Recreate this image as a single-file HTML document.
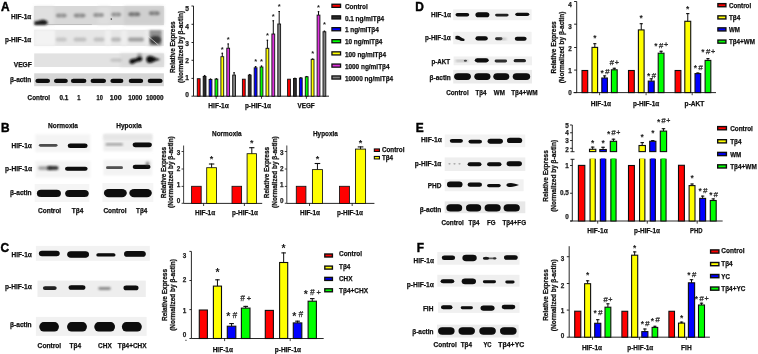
<!DOCTYPE html>
<html><head><meta charset="utf-8"><style>
html,body{margin:0;padding:0;background:#fff;}
body{width:758px;height:354px;overflow:hidden;}
svg{display:block;will-change:transform;}
text{font-family:"Liberation Sans",sans-serif;}
</style></head><body>
<svg width="758" height="354" viewBox="0 0 758 354">
<defs><filter id="gblur" x="0" y="0" width="100%" height="100%" filterUnits="userSpaceOnUse"><feGaussianBlur stdDeviation="0.35"/></filter><filter id="b4" x="-50%" y="-50%" width="200%" height="200%"><feGaussianBlur stdDeviation="0.4"/></filter><filter id="b5" x="-50%" y="-50%" width="200%" height="200%"><feGaussianBlur stdDeviation="0.5"/></filter><filter id="b6" x="-50%" y="-50%" width="200%" height="200%"><feGaussianBlur stdDeviation="0.6"/></filter><filter id="b7" x="-50%" y="-50%" width="200%" height="200%"><feGaussianBlur stdDeviation="0.7"/></filter><filter id="b8" x="-50%" y="-50%" width="200%" height="200%"><feGaussianBlur stdDeviation="0.8"/></filter><filter id="b9" x="-50%" y="-50%" width="200%" height="200%"><feGaussianBlur stdDeviation="0.9"/></filter><filter id="b10" x="-50%" y="-50%" width="200%" height="200%"><feGaussianBlur stdDeviation="1.0"/></filter><filter id="b11" x="-50%" y="-50%" width="200%" height="200%"><feGaussianBlur stdDeviation="1.1"/></filter><filter id="b12" x="-50%" y="-50%" width="200%" height="200%"><feGaussianBlur stdDeviation="1.2"/></filter><filter id="b13" x="-50%" y="-50%" width="200%" height="200%"><feGaussianBlur stdDeviation="1.3"/></filter><filter id="b15" x="-50%" y="-50%" width="200%" height="200%"><feGaussianBlur stdDeviation="1.5"/></filter></defs>
<rect width="758" height="354" fill="#fff"/>
<g filter="url(#gblur)">
<text x="1.00" y="10.80" font-size="12.8" text-anchor="start" fill="#000" font-weight="bold" textLength="8.60" lengthAdjust="spacingAndGlyphs" stroke="#000" stroke-width="0.45">A</text>
<text x="11.00" y="18.71" font-size="6.6" text-anchor="start" fill="#111" font-weight="bold" textLength="20.30" lengthAdjust="spacingAndGlyphs" stroke="#111" stroke-width="0.25">HIF-1α</text>
<text x="5.00" y="42.31" font-size="6.6" text-anchor="start" fill="#111" font-weight="bold" textLength="26.30" lengthAdjust="spacingAndGlyphs" stroke="#111" stroke-width="0.25">p-HIF-1α</text>
<text x="13.80" y="66.51" font-size="6.6" text-anchor="start" fill="#111" font-weight="bold" textLength="18.00" lengthAdjust="spacingAndGlyphs" stroke="#111" stroke-width="0.25">VEGF</text>
<text x="10.00" y="82.31" font-size="6.6" text-anchor="start" fill="#111" font-weight="bold" textLength="21.30" lengthAdjust="spacingAndGlyphs" stroke="#111" stroke-width="0.25">β-actin</text>
<text x="27.60" y="99.81" font-size="6.6" text-anchor="start" fill="#111" font-weight="bold" textLength="22.50" lengthAdjust="spacingAndGlyphs" stroke="#111" stroke-width="0.25">Control</text>
<text x="59.40" y="99.81" font-size="6.6" text-anchor="start" fill="#111" font-weight="bold" textLength="8.80" lengthAdjust="spacingAndGlyphs" stroke="#111" stroke-width="0.25">0.1</text>
<text x="77.20" y="99.81" font-size="6.6" text-anchor="start" fill="#111" font-weight="bold" textLength="3.20" lengthAdjust="spacingAndGlyphs" stroke="#111" stroke-width="0.25">1</text>
<text x="96.50" y="99.81" font-size="6.6" text-anchor="start" fill="#111" font-weight="bold" textLength="6.30" lengthAdjust="spacingAndGlyphs" stroke="#111" stroke-width="0.25">10</text>
<text x="109.80" y="99.81" font-size="6.6" text-anchor="start" fill="#111" font-weight="bold" textLength="11.80" lengthAdjust="spacingAndGlyphs" stroke="#111" stroke-width="0.25">100</text>
<text x="128.30" y="99.81" font-size="6.6" text-anchor="start" fill="#111" font-weight="bold" textLength="14.10" lengthAdjust="spacingAndGlyphs" stroke="#111" stroke-width="0.25">1000</text>
<text x="145.90" y="99.81" font-size="6.6" text-anchor="start" fill="#111" font-weight="bold" textLength="17.50" lengthAdjust="spacingAndGlyphs" stroke="#111" stroke-width="0.25">10000</text>
<rect x="34.20" y="6.00" width="129.70" height="19.10" fill="#d8d8d8" filter="url(#b5)"/>
<rect x="34.20" y="6.50" width="19.80" height="18.00" fill="#e0e0e0" filter="url(#b15)"/>
<rect x="98.00" y="6.50" width="12.00" height="18.00" fill="#dedede" filter="url(#b15)"/>
<rect x="124.00" y="6.50" width="39.50" height="18.00" fill="#cfcfcf" filter="url(#b15)"/>
<path d="M34.4,21.4 Q39,21.0 42,19.8 Q45.5,19.2 47.6,21.8 Q48,24.6 45,25.0 L34.4,25.0 Z" fill="#1c1c1c" filter="url(#b10)"/>
<rect x="47.00" y="24.00" width="45.00" height="0.80" rx="0.46" ry="0.40" fill="#777" filter="url(#b6)" opacity="0.35"/>
<rect x="55.80" y="13.60" width="11.00" height="4.00" rx="2.32" ry="2.00" fill="#555" filter="url(#b13)" opacity="0.42"/>
<ellipse cx="58.55" cy="15.60" rx="1.83" ry="1.60" fill="#444" filter="url(#b10)" opacity="0.189"/>
<ellipse cx="64.05" cy="15.60" rx="1.83" ry="1.60" fill="#444" filter="url(#b10)" opacity="0.189"/>
<rect x="73.60" y="13.60" width="12.00" height="4.00" rx="2.32" ry="2.00" fill="#555" filter="url(#b13)" opacity="0.45"/>
<ellipse cx="76.60" cy="15.60" rx="2.00" ry="1.60" fill="#444" filter="url(#b10)" opacity="0.2025"/>
<ellipse cx="82.60" cy="15.60" rx="2.00" ry="1.60" fill="#444" filter="url(#b10)" opacity="0.2025"/>
<rect x="93.10" y="13.00" width="11.00" height="4.00" rx="2.32" ry="2.00" fill="#555" filter="url(#b13)" opacity="0.42"/>
<ellipse cx="95.85" cy="15.00" rx="1.83" ry="1.60" fill="#444" filter="url(#b10)" opacity="0.189"/>
<ellipse cx="101.35" cy="15.00" rx="1.83" ry="1.60" fill="#444" filter="url(#b10)" opacity="0.189"/>
<rect x="111.20" y="12.50" width="10.00" height="4.00" rx="2.32" ry="2.00" fill="#555" filter="url(#b13)" opacity="0.42"/>
<ellipse cx="113.70" cy="14.50" rx="1.67" ry="1.60" fill="#444" filter="url(#b10)" opacity="0.189"/>
<ellipse cx="118.70" cy="14.50" rx="1.67" ry="1.60" fill="#444" filter="url(#b10)" opacity="0.189"/>
<rect x="128.30" y="12.20" width="12.00" height="4.00" rx="2.32" ry="2.00" fill="#555" filter="url(#b13)" opacity="0.6"/>
<ellipse cx="131.30" cy="14.20" rx="2.00" ry="1.60" fill="#444" filter="url(#b10)" opacity="0.27"/>
<ellipse cx="137.30" cy="14.20" rx="2.00" ry="1.60" fill="#444" filter="url(#b10)" opacity="0.27"/>
<rect x="148.80" y="11.30" width="11.00" height="4.00" rx="2.32" ry="2.00" fill="#555" filter="url(#b13)" opacity="0.52"/>
<ellipse cx="151.55" cy="13.30" rx="1.83" ry="1.60" fill="#444" filter="url(#b10)" opacity="0.234"/>
<ellipse cx="157.05" cy="13.30" rx="1.83" ry="1.60" fill="#444" filter="url(#b10)" opacity="0.234"/>
<ellipse cx="111.30" cy="19.10" rx="0.80" ry="0.80" fill="#222" filter="url(#b4)" opacity="0.8"/>
<rect x="34.20" y="29.80" width="129.70" height="16.10" fill="#e6e6e6" filter="url(#b5)"/>
<rect x="34.20" y="30.00" width="20.80" height="15.70" fill="#f3f3f3" filter="url(#b10)"/>
<rect x="105.00" y="30.20" width="6.00" height="15.30" fill="#efefef" filter="url(#b10)"/>
<rect x="121.00" y="30.20" width="6.00" height="15.30" fill="#eeeeee" filter="url(#b10)"/>
<rect x="145.00" y="30.20" width="5.00" height="15.30" fill="#ececec" filter="url(#b10)"/>
<rect x="55.80" y="37.60" width="11.00" height="4.00" rx="2.32" ry="2.00" fill="#555" filter="url(#b12)" opacity="0.22"/>
<rect x="73.50" y="37.60" width="13.00" height="4.00" rx="2.32" ry="2.00" fill="#555" filter="url(#b12)" opacity="0.26"/>
<rect x="93.50" y="37.60" width="11.00" height="4.00" rx="2.32" ry="2.00" fill="#555" filter="url(#b12)" opacity="0.26"/>
<rect x="111.00" y="37.60" width="10.00" height="4.00" rx="2.32" ry="2.00" fill="#555" filter="url(#b12)" opacity="0.32"/>
<rect x="128.00" y="37.60" width="16.00" height="4.00" rx="2.32" ry="2.00" fill="#555" filter="url(#b12)" opacity="0.48"/>
<rect x="149.50" y="30.20" width="12.00" height="15.30" fill="#909090" filter="url(#b12)"/>
<rect x="149.80" y="36.00" width="11.20" height="8.00" rx="4.64" ry="4.00" fill="#2a2a2a" filter="url(#b13)" opacity="0.85"/>
<line x1="145.00" y1="33.50" x2="158.50" y2="45.00" stroke="#e8e8e8" stroke-width="0.7"/>
<rect x="34.20" y="53.40" width="129.70" height="13.60" fill="#e2e2e2" filter="url(#b5)"/>
<rect x="120.00" y="53.60" width="43.70" height="13.20" fill="#dadada" filter="url(#b15)"/>
<rect x="110.40" y="58.60" width="11.30" height="3.20" rx="1.86" ry="1.60" fill="#888" filter="url(#b11)" opacity="0.35"/>
<path d="M129.3,61.8 Q129.6,58.6 133.5,58.8 Q136.5,58.6 138.3,56.4 Q142.2,55.4 142.4,59.2 Q142.0,61.6 137.5,61.8 Q135.0,62.2 133.4,63.8 Q129.8,64.6 129.3,61.8 Z" fill="#0c0c0c" filter="url(#b8)"/>
<path d="M146.2,59.5 Q146.4,55.7 150.5,55.8 Q153.8,56.6 155.8,58.1 Q158.5,58.8 160.3,59.3 Q158.5,60.5 155.8,60.8 Q153.8,62.0 150.5,63.1 Q146.4,63.3 146.2,59.5 Z" fill="#0a0a0a" filter="url(#b8)"/>
<ellipse cx="139.50" cy="54.80" rx="2.60" ry="1.60" fill="#666" filter="url(#b9)" opacity="0.55"/>
<rect x="34.20" y="73.30" width="129.70" height="12.90" fill="#d6d6d6" filter="url(#b5)"/>
<rect x="35.40" y="78.80" width="14.60" height="4.20" rx="2.44" ry="2.10" fill="#080808" filter="url(#b6)"/>
<rect x="54.00" y="78.80" width="13.80" height="4.20" rx="2.44" ry="2.10" fill="#080808" filter="url(#b6)"/>
<rect x="70.90" y="78.80" width="15.50" height="4.20" rx="2.44" ry="2.10" fill="#080808" filter="url(#b6)"/>
<rect x="90.60" y="78.80" width="15.40" height="4.20" rx="2.44" ry="2.10" fill="#080808" filter="url(#b6)"/>
<rect x="110.40" y="78.80" width="13.00" height="4.20" rx="2.44" ry="2.10" fill="#080808" filter="url(#b6)"/>
<rect x="128.70" y="78.80" width="14.50" height="4.20" rx="2.44" ry="2.10" fill="#080808" filter="url(#b6)"/>
<rect x="147.70" y="78.80" width="14.90" height="4.20" rx="2.44" ry="2.10" fill="#080808" filter="url(#b6)"/>
<line x1="193.50" y1="6.00" x2="193.50" y2="96.20" stroke="#111" stroke-width="0.9"/>
<line x1="191.50" y1="96.20" x2="193.50" y2="96.20" stroke="#111" stroke-width="0.9"/>
<text x="188.90" y="96.91" font-size="6.6" text-anchor="end" fill="#222" font-weight="bold" stroke="#222" stroke-width="0.25">0</text>
<line x1="191.50" y1="78.40" x2="193.50" y2="78.40" stroke="#111" stroke-width="0.9"/>
<text x="188.90" y="80.11" font-size="6.6" text-anchor="end" fill="#222" font-weight="bold" stroke="#222" stroke-width="0.25">1</text>
<line x1="191.50" y1="60.30" x2="193.50" y2="60.30" stroke="#111" stroke-width="0.9"/>
<text x="188.90" y="63.01" font-size="6.6" text-anchor="end" fill="#222" font-weight="bold" stroke="#222" stroke-width="0.25">2</text>
<line x1="191.50" y1="42.50" x2="193.50" y2="42.50" stroke="#111" stroke-width="0.9"/>
<text x="188.90" y="45.71" font-size="6.6" text-anchor="end" fill="#222" font-weight="bold" stroke="#222" stroke-width="0.25">3</text>
<line x1="191.50" y1="24.30" x2="193.50" y2="24.30" stroke="#111" stroke-width="0.9"/>
<text x="188.90" y="28.61" font-size="6.6" text-anchor="end" fill="#222" font-weight="bold" stroke="#222" stroke-width="0.25">4</text>
<line x1="191.50" y1="6.00" x2="193.50" y2="6.00" stroke="#111" stroke-width="0.9"/>
<text x="188.90" y="11.11" font-size="6.6" text-anchor="end" fill="#222" font-weight="bold" stroke="#222" stroke-width="0.25">5</text>
<line x1="193.50" y1="96.20" x2="329.00" y2="96.20" stroke="#111" stroke-width="0.9"/>
<line x1="216.20" y1="96.20" x2="216.20" y2="98.80" stroke="#111" stroke-width="0.8"/>
<line x1="261.50" y1="96.20" x2="261.50" y2="98.80" stroke="#111" stroke-width="0.8"/>
<line x1="306.40" y1="96.20" x2="306.40" y2="98.80" stroke="#111" stroke-width="0.8"/>
<text transform="translate(175.30,47.20) rotate(-90)" x="0" y="0" font-size="6.8" text-anchor="middle" fill="#111" font-weight="bold" stroke="#111" stroke-width="0.25" textLength="51.70" lengthAdjust="spacingAndGlyphs">Relative Express</text>
<text transform="translate(182.60,46.90) rotate(-90)" x="0" y="0" font-size="6.8" text-anchor="middle" fill="#111" font-weight="bold" stroke="#111" stroke-width="0.25" textLength="72.00" lengthAdjust="spacingAndGlyphs">(Normalized by β-actin)</text>
<rect x="197.30" y="78.70" width="2.80" height="17.50" fill="#ff0000" stroke="#111" stroke-width="0.9"/>
<rect x="203.20" y="76.50" width="2.80" height="19.70" fill="#2a2a2a" stroke="#111" stroke-width="0.9"/>
<line x1="204.60" y1="76.50" x2="204.60" y2="75.00" stroke="#111" stroke-width="1.0"/>
<line x1="203.83" y1="75.50" x2="205.37" y2="75.50" stroke="#111" stroke-width="1.1"/>
<rect x="209.10" y="79.50" width="2.80" height="16.70" fill="#0000ff" stroke="#111" stroke-width="0.9"/>
<line x1="210.50" y1="79.50" x2="210.50" y2="78.60" stroke="#111" stroke-width="1.0"/>
<line x1="209.73" y1="79.10" x2="211.27" y2="79.10" stroke="#111" stroke-width="1.1"/>
<rect x="215.00" y="79.10" width="2.80" height="17.10" fill="#00ff00" stroke="#111" stroke-width="0.9"/>
<line x1="216.40" y1="79.10" x2="216.40" y2="78.30" stroke="#111" stroke-width="1.0"/>
<line x1="215.63" y1="78.80" x2="217.17" y2="78.80" stroke="#111" stroke-width="1.1"/>
<rect x="220.90" y="56.70" width="2.80" height="39.50" fill="#ffff00" stroke="#111" stroke-width="0.9"/>
<line x1="222.30" y1="56.70" x2="222.30" y2="52.80" stroke="#111" stroke-width="1.0"/>
<line x1="221.53" y1="53.30" x2="223.07" y2="53.30" stroke="#111" stroke-width="1.1"/>
<text x="222.30" y="51.61" font-size="7.5" text-anchor="middle" fill="#1a1a1a" font-weight="bold">*</text>
<rect x="226.80" y="48.20" width="2.80" height="48.00" fill="#dd33dd" stroke="#111" stroke-width="0.9"/>
<line x1="228.20" y1="48.20" x2="228.20" y2="43.50" stroke="#111" stroke-width="1.0"/>
<line x1="227.43" y1="44.00" x2="228.97" y2="44.00" stroke="#111" stroke-width="1.1"/>
<text x="228.20" y="42.31" font-size="7.5" text-anchor="middle" fill="#1a1a1a" font-weight="bold">*</text>
<rect x="232.70" y="75.10" width="2.80" height="21.10" fill="#808080" stroke="#111" stroke-width="0.9"/>
<line x1="234.10" y1="75.10" x2="234.10" y2="72.20" stroke="#111" stroke-width="1.0"/>
<line x1="233.33" y1="72.70" x2="234.87" y2="72.70" stroke="#111" stroke-width="1.1"/>
<rect x="242.40" y="79.20" width="2.80" height="17.00" fill="#ff0000" stroke="#111" stroke-width="0.9"/>
<rect x="248.30" y="75.10" width="2.80" height="21.10" fill="#2a2a2a" stroke="#111" stroke-width="0.9"/>
<line x1="249.70" y1="75.10" x2="249.70" y2="74.00" stroke="#111" stroke-width="1.0"/>
<line x1="248.93" y1="74.50" x2="250.47" y2="74.50" stroke="#111" stroke-width="1.1"/>
<rect x="254.20" y="67.80" width="2.80" height="28.40" fill="#0000ff" stroke="#111" stroke-width="0.9"/>
<line x1="255.60" y1="67.80" x2="255.60" y2="66.10" stroke="#111" stroke-width="1.0"/>
<line x1="254.83" y1="66.60" x2="256.37" y2="66.60" stroke="#111" stroke-width="1.1"/>
<text x="255.60" y="64.31" font-size="7.5" text-anchor="middle" fill="#1a1a1a" font-weight="bold">*</text>
<rect x="260.10" y="67.00" width="2.80" height="29.20" fill="#00ff00" stroke="#111" stroke-width="0.9"/>
<line x1="261.50" y1="67.00" x2="261.50" y2="65.60" stroke="#111" stroke-width="1.0"/>
<line x1="260.73" y1="66.10" x2="262.27" y2="66.10" stroke="#111" stroke-width="1.1"/>
<text x="261.50" y="64.31" font-size="7.5" text-anchor="middle" fill="#1a1a1a" font-weight="bold">*</text>
<rect x="266.00" y="48.30" width="2.80" height="47.90" fill="#ffff00" stroke="#111" stroke-width="0.9"/>
<line x1="267.40" y1="48.30" x2="267.40" y2="39.80" stroke="#111" stroke-width="1.0"/>
<line x1="266.63" y1="40.30" x2="268.17" y2="40.30" stroke="#111" stroke-width="1.1"/>
<text x="267.40" y="37.71" font-size="7.5" text-anchor="middle" fill="#1a1a1a" font-weight="bold">*</text>
<rect x="271.90" y="34.00" width="2.80" height="62.20" fill="#dd33dd" stroke="#111" stroke-width="0.9"/>
<line x1="273.30" y1="34.00" x2="273.30" y2="20.30" stroke="#111" stroke-width="1.0"/>
<line x1="272.53" y1="20.80" x2="274.07" y2="20.80" stroke="#111" stroke-width="1.1"/>
<text x="273.30" y="18.71" font-size="7.5" text-anchor="middle" fill="#1a1a1a" font-weight="bold">*</text>
<rect x="277.80" y="24.00" width="2.80" height="72.20" fill="#808080" stroke="#111" stroke-width="0.9"/>
<line x1="279.20" y1="24.00" x2="279.20" y2="11.00" stroke="#111" stroke-width="1.0"/>
<line x1="278.43" y1="11.50" x2="279.97" y2="11.50" stroke="#111" stroke-width="1.1"/>
<text x="279.20" y="9.41" font-size="7.5" text-anchor="middle" fill="#1a1a1a" font-weight="bold">*</text>
<rect x="287.60" y="79.20" width="2.80" height="17.00" fill="#ff0000" stroke="#111" stroke-width="0.9"/>
<rect x="293.50" y="78.50" width="2.80" height="17.70" fill="#2a2a2a" stroke="#111" stroke-width="0.9"/>
<line x1="294.90" y1="78.50" x2="294.90" y2="77.90" stroke="#111" stroke-width="1.0"/>
<line x1="294.13" y1="78.40" x2="295.67" y2="78.40" stroke="#111" stroke-width="1.1"/>
<rect x="299.40" y="78.00" width="2.80" height="18.20" fill="#0000ff" stroke="#111" stroke-width="0.9"/>
<line x1="300.80" y1="78.00" x2="300.80" y2="77.40" stroke="#111" stroke-width="1.0"/>
<line x1="300.03" y1="77.90" x2="301.57" y2="77.90" stroke="#111" stroke-width="1.1"/>
<rect x="305.30" y="76.80" width="2.80" height="19.40" fill="#00ff00" stroke="#111" stroke-width="0.9"/>
<line x1="306.70" y1="76.80" x2="306.70" y2="76.00" stroke="#111" stroke-width="1.0"/>
<line x1="305.93" y1="76.50" x2="307.47" y2="76.50" stroke="#111" stroke-width="1.1"/>
<rect x="311.20" y="59.30" width="2.80" height="36.90" fill="#ffff00" stroke="#111" stroke-width="0.9"/>
<line x1="312.60" y1="59.30" x2="312.60" y2="58.60" stroke="#111" stroke-width="1.0"/>
<line x1="311.83" y1="59.10" x2="313.37" y2="59.10" stroke="#111" stroke-width="1.1"/>
<text x="312.60" y="55.81" font-size="7.5" text-anchor="middle" fill="#1a1a1a" font-weight="bold">*</text>
<rect x="317.10" y="15.10" width="2.80" height="81.10" fill="#dd33dd" stroke="#111" stroke-width="0.9"/>
<line x1="318.50" y1="15.10" x2="318.50" y2="11.20" stroke="#111" stroke-width="1.0"/>
<line x1="317.73" y1="11.70" x2="319.27" y2="11.70" stroke="#111" stroke-width="1.1"/>
<text x="318.50" y="9.71" font-size="7.5" text-anchor="middle" fill="#1a1a1a" font-weight="bold">*</text>
<rect x="323.00" y="31.80" width="2.80" height="64.40" fill="#808080" stroke="#111" stroke-width="0.9"/>
<line x1="324.40" y1="31.80" x2="324.40" y2="30.70" stroke="#111" stroke-width="1.0"/>
<line x1="323.63" y1="31.20" x2="325.17" y2="31.20" stroke="#111" stroke-width="1.1"/>
<text x="324.40" y="27.11" font-size="7.5" text-anchor="middle" fill="#1a1a1a" font-weight="bold">*</text>
<text x="208.30" y="108.21" font-size="6.6" text-anchor="start" fill="#111" font-weight="bold" textLength="20.50" lengthAdjust="spacingAndGlyphs" stroke="#111" stroke-width="0.25">HIF-1α</text>
<text x="244.90" y="108.21" font-size="6.6" text-anchor="start" fill="#111" font-weight="bold" textLength="26.20" lengthAdjust="spacingAndGlyphs" stroke="#111" stroke-width="0.25">p-HIF-1α</text>
<text x="297.50" y="108.21" font-size="6.6" text-anchor="start" fill="#111" font-weight="bold" textLength="17.20" lengthAdjust="spacingAndGlyphs" stroke="#111" stroke-width="0.25">VEGF</text>
<rect x="331.95" y="4.25" width="8.60" height="3.10" fill="#ff0000" stroke="#111" stroke-width="1.3"/>
<text x="344.90" y="8.95" font-size="6.7" text-anchor="start" fill="#111" font-weight="bold" textLength="22.86" lengthAdjust="spacingAndGlyphs" stroke="#111" stroke-width="0.25">Control</text>
<rect x="331.95" y="15.85" width="8.60" height="3.10" fill="#2a2a2a" stroke="#111" stroke-width="1.3"/>
<text x="344.90" y="20.75" font-size="6.7" text-anchor="start" fill="#111" font-weight="bold" textLength="39.31" lengthAdjust="spacingAndGlyphs" stroke="#111" stroke-width="0.25">0.1 ng/mlTβ4</text>
<rect x="331.95" y="27.65" width="8.60" height="3.10" fill="#0000ff" stroke="#111" stroke-width="1.3"/>
<text x="344.90" y="32.35" font-size="6.7" text-anchor="start" fill="#111" font-weight="bold" textLength="33.94" lengthAdjust="spacingAndGlyphs" stroke="#111" stroke-width="0.25">1 ng/mlTβ4</text>
<rect x="331.95" y="39.65" width="8.60" height="3.10" fill="#00ff00" stroke="#111" stroke-width="1.3"/>
<text x="344.90" y="44.35" font-size="6.7" text-anchor="start" fill="#111" font-weight="bold" textLength="37.52" lengthAdjust="spacingAndGlyphs" stroke="#111" stroke-width="0.25">10 ng/mlTβ4</text>
<rect x="331.95" y="51.85" width="8.60" height="3.10" fill="#ffff00" stroke="#111" stroke-width="1.3"/>
<text x="344.90" y="56.55" font-size="6.7" text-anchor="start" fill="#111" font-weight="bold" textLength="41.10" lengthAdjust="spacingAndGlyphs" stroke="#111" stroke-width="0.25">100 ng/mlTβ4</text>
<rect x="331.95" y="64.05" width="8.60" height="3.10" fill="#dd33dd" stroke="#111" stroke-width="1.3"/>
<text x="344.90" y="68.75" font-size="6.7" text-anchor="start" fill="#111" font-weight="bold" textLength="44.68" lengthAdjust="spacingAndGlyphs" stroke="#111" stroke-width="0.25">1000 ng/mlTβ4</text>
<rect x="331.95" y="75.95" width="8.60" height="3.10" fill="#808080" stroke="#111" stroke-width="1.3"/>
<text x="344.90" y="80.65" font-size="6.7" text-anchor="start" fill="#111" font-weight="bold" textLength="48.25" lengthAdjust="spacingAndGlyphs" stroke="#111" stroke-width="0.25">10000 ng/mlTβ4</text>
<text x="1.10" y="132.00" font-size="12.8" text-anchor="start" fill="#000" font-weight="bold" textLength="8.60" lengthAdjust="spacingAndGlyphs" stroke="#000" stroke-width="0.45">B</text>
<text x="48.00" y="127.51" font-size="6.6" text-anchor="start" fill="#111" font-weight="bold" textLength="30.00" lengthAdjust="spacingAndGlyphs" stroke="#111" stroke-width="0.25">Normoxia</text>
<text x="116.20" y="127.51" font-size="6.6" text-anchor="start" fill="#111" font-weight="bold" textLength="25.40" lengthAdjust="spacingAndGlyphs" stroke="#111" stroke-width="0.25">Hypoxia</text>
<text x="11.50" y="148.01" font-size="6.6" text-anchor="start" fill="#111" font-weight="bold" textLength="20.40" lengthAdjust="spacingAndGlyphs" stroke="#111" stroke-width="0.25">HIF-1α</text>
<text x="5.10" y="171.01" font-size="6.6" text-anchor="start" fill="#111" font-weight="bold" textLength="27.10" lengthAdjust="spacingAndGlyphs" stroke="#111" stroke-width="0.25">p-HIF-1α</text>
<text x="10.10" y="194.91" font-size="6.6" text-anchor="start" fill="#111" font-weight="bold" textLength="21.50" lengthAdjust="spacingAndGlyphs" stroke="#111" stroke-width="0.25">β-actin</text>
<text x="38.00" y="212.71" font-size="6.6" text-anchor="start" fill="#111" font-weight="bold" textLength="23.20" lengthAdjust="spacingAndGlyphs" stroke="#111" stroke-width="0.25">Control</text>
<text x="71.70" y="212.71" font-size="6.6" text-anchor="start" fill="#111" font-weight="bold" textLength="11.60" lengthAdjust="spacingAndGlyphs" stroke="#111" stroke-width="0.25">Tβ4</text>
<text x="103.40" y="212.71" font-size="6.6" text-anchor="start" fill="#111" font-weight="bold" textLength="23.20" lengthAdjust="spacingAndGlyphs" stroke="#111" stroke-width="0.25">Control</text>
<text x="136.00" y="212.71" font-size="6.6" text-anchor="start" fill="#111" font-weight="bold" textLength="11.30" lengthAdjust="spacingAndGlyphs" stroke="#111" stroke-width="0.25">Tβ4</text>
<rect x="35.30" y="134.20" width="55.10" height="18.00" fill="#f4f4f4" filter="url(#b8)"/>
<rect x="103.50" y="134.20" width="48.70" height="17.00" fill="#eeeeee" filter="url(#b8)"/>
<rect x="103.50" y="134.20" width="48.70" height="5.80" fill="#e6e6e6" filter="url(#b10)"/>
<rect x="35.30" y="161.00" width="55.10" height="16.70" fill="#f4f4f4" filter="url(#b8)"/>
<rect x="103.50" y="159.70" width="48.70" height="15.80" fill="#f3f3f3" filter="url(#b8)"/>
<rect x="34.70" y="184.00" width="54.60" height="18.00" fill="#f5f5f5" filter="url(#b6)"/>
<rect x="102.40" y="183.00" width="50.90" height="19.00" fill="#f5f5f5" filter="url(#b6)"/>
<rect x="38.90" y="143.95" width="18.60" height="2.70" rx="1.57" ry="1.35" fill="#080808" filter="url(#b6)" opacity="0.72"/>
<rect x="67.70" y="143.45" width="19.90" height="4.50" rx="2.61" ry="2.25" fill="#080808" filter="url(#b6)"/>
<rect x="105.60" y="143.20" width="17.40" height="2.40" rx="1.39" ry="1.20" fill="#555" filter="url(#b8)" opacity="0.55"/>
<rect x="132.70" y="142.45" width="19.10" height="4.70" rx="2.73" ry="2.35" fill="#080808" filter="url(#b6)"/>
<rect x="38.00" y="166.30" width="14.00" height="3.60" rx="2.09" ry="1.80" fill="#555" filter="url(#b10)" opacity="0.5"/>
<rect x="47.00" y="165.90" width="11.60" height="4.20" rx="2.44" ry="2.10" fill="#222" filter="url(#b9)" opacity="0.9"/>
<rect x="65.00" y="166.75" width="22.60" height="4.10" rx="2.38" ry="2.05" fill="#080808" filter="url(#b6)"/>
<rect x="106.00" y="166.35" width="17.00" height="2.70" rx="1.57" ry="1.35" fill="#080808" filter="url(#b6)" opacity="0.7"/>
<rect x="132.70" y="164.85" width="17.80" height="4.10" rx="2.38" ry="2.05" fill="#080808" filter="url(#b6)"/>
<ellipse cx="147.50" cy="164.00" rx="2.00" ry="2.60" fill="#444" filter="url(#b9)" opacity="0.6"/>
<rect x="36.90" y="189.85" width="24.00" height="7.10" rx="4.12" ry="3.55" fill="#080808" filter="url(#b6)"/>
<rect x="65.20" y="189.95" width="23.50" height="7.10" rx="4.12" ry="3.55" fill="#080808" filter="url(#b6)"/>
<rect x="103.90" y="188.95" width="22.90" height="8.30" rx="4.81" ry="4.15" fill="#080808" filter="url(#b6)"/>
<rect x="129.30" y="188.95" width="22.50" height="8.30" rx="4.81" ry="4.15" fill="#080808" filter="url(#b6)"/>
<line x1="183.60" y1="145.50" x2="183.60" y2="203.40" stroke="#111" stroke-width="0.8"/>
<line x1="181.60" y1="203.30" x2="183.60" y2="203.30" stroke="#111" stroke-width="0.8"/>
<text x="180.20" y="202.58" font-size="6.3" text-anchor="end" fill="#222" font-weight="bold" stroke="#222" stroke-width="0.25">0</text>
<line x1="181.60" y1="186.40" x2="183.60" y2="186.40" stroke="#111" stroke-width="0.8"/>
<text x="180.20" y="187.08" font-size="6.3" text-anchor="end" fill="#222" font-weight="bold" stroke="#222" stroke-width="0.25">1</text>
<line x1="181.60" y1="169.00" x2="183.60" y2="169.00" stroke="#111" stroke-width="0.8"/>
<text x="180.20" y="171.08" font-size="6.3" text-anchor="end" fill="#222" font-weight="bold" stroke="#222" stroke-width="0.25">2</text>
<line x1="181.60" y1="151.50" x2="183.60" y2="151.50" stroke="#111" stroke-width="0.8"/>
<text x="180.20" y="155.28" font-size="6.3" text-anchor="end" fill="#222" font-weight="bold" stroke="#222" stroke-width="0.25">3</text>
<line x1="183.60" y1="203.40" x2="262.20" y2="203.40" stroke="#111" stroke-width="0.9"/>
<line x1="203.60" y1="203.40" x2="203.60" y2="206.00" stroke="#111" stroke-width="0.8"/>
<line x1="244.40" y1="203.40" x2="244.40" y2="206.00" stroke="#111" stroke-width="0.8"/>
<rect x="191.60" y="186.30" width="9.60" height="17.10" fill="#ff0000" stroke="#111" stroke-width="0.85"/>
<rect x="206.70" y="167.70" width="9.80" height="35.70" fill="#ffff00" stroke="#111" stroke-width="0.85"/>
<line x1="211.60" y1="167.70" x2="211.60" y2="163.50" stroke="#111" stroke-width="1.0"/>
<line x1="208.91" y1="164.00" x2="214.29" y2="164.00" stroke="#111" stroke-width="1.1"/>
<text x="211.60" y="162.17" font-size="9.0" text-anchor="middle" fill="#1a1a1a" font-weight="bold">*</text>
<rect x="232.00" y="186.30" width="9.60" height="17.10" fill="#ff0000" stroke="#111" stroke-width="0.85"/>
<rect x="247.10" y="153.70" width="9.40" height="49.70" fill="#ffff00" stroke="#111" stroke-width="0.85"/>
<line x1="251.80" y1="153.70" x2="251.80" y2="147.20" stroke="#111" stroke-width="1.0"/>
<line x1="249.22" y1="147.70" x2="254.39" y2="147.70" stroke="#111" stroke-width="1.1"/>
<text x="251.80" y="145.87" font-size="9.0" text-anchor="middle" fill="#1a1a1a" font-weight="bold">*</text>
<text transform="translate(166.00,172.60) rotate(-90)" x="0" y="0" font-size="6.8" text-anchor="middle" fill="#111" font-weight="bold" stroke="#111" stroke-width="0.25" textLength="51.20" lengthAdjust="spacingAndGlyphs">Relative Express</text>
<text transform="translate(172.80,172.10) rotate(-90)" x="0" y="0" font-size="6.8" text-anchor="middle" fill="#111" font-weight="bold" stroke="#111" stroke-width="0.25" textLength="71.70" lengthAdjust="spacingAndGlyphs">(Normalized by β-actin)</text>
<text x="212.10" y="136.01" font-size="6.6" text-anchor="start" fill="#111" font-weight="bold" textLength="29.50" lengthAdjust="spacingAndGlyphs" stroke="#111" stroke-width="0.25">Normoxia</text>
<text x="195.00" y="214.71" font-size="6.6" text-anchor="start" fill="#111" font-weight="bold" textLength="20.20" lengthAdjust="spacingAndGlyphs" stroke="#111" stroke-width="0.25">HIF-1α</text>
<text x="232.10" y="214.71" font-size="6.6" text-anchor="start" fill="#111" font-weight="bold" textLength="25.90" lengthAdjust="spacingAndGlyphs" stroke="#111" stroke-width="0.25">p-HIF-1α</text>
<line x1="286.80" y1="145.50" x2="286.80" y2="203.40" stroke="#111" stroke-width="0.8"/>
<line x1="284.80" y1="203.30" x2="286.80" y2="203.30" stroke="#111" stroke-width="0.8"/>
<text x="283.40" y="202.58" font-size="6.3" text-anchor="end" fill="#222" font-weight="bold" stroke="#222" stroke-width="0.25">0</text>
<line x1="284.80" y1="186.40" x2="286.80" y2="186.40" stroke="#111" stroke-width="0.8"/>
<text x="283.40" y="187.08" font-size="6.3" text-anchor="end" fill="#222" font-weight="bold" stroke="#222" stroke-width="0.25">1</text>
<line x1="284.80" y1="169.00" x2="286.80" y2="169.00" stroke="#111" stroke-width="0.8"/>
<text x="283.40" y="171.08" font-size="6.3" text-anchor="end" fill="#222" font-weight="bold" stroke="#222" stroke-width="0.25">2</text>
<line x1="284.80" y1="151.50" x2="286.80" y2="151.50" stroke="#111" stroke-width="0.8"/>
<text x="283.40" y="155.28" font-size="6.3" text-anchor="end" fill="#222" font-weight="bold" stroke="#222" stroke-width="0.25">3</text>
<line x1="286.80" y1="203.40" x2="374.40" y2="203.40" stroke="#111" stroke-width="0.9"/>
<line x1="309.50" y1="203.40" x2="309.50" y2="206.00" stroke="#111" stroke-width="0.8"/>
<line x1="352.20" y1="203.40" x2="352.20" y2="206.00" stroke="#111" stroke-width="0.8"/>
<rect x="296.30" y="186.30" width="9.60" height="17.10" fill="#ff0000" stroke="#111" stroke-width="0.85"/>
<rect x="312.40" y="169.60" width="10.10" height="33.80" fill="#ffff00" stroke="#111" stroke-width="0.85"/>
<line x1="317.45" y1="169.60" x2="317.45" y2="163.00" stroke="#111" stroke-width="1.0"/>
<line x1="314.67" y1="163.50" x2="320.23" y2="163.50" stroke="#111" stroke-width="1.1"/>
<text x="317.45" y="162.47" font-size="9.0" text-anchor="middle" fill="#1a1a1a" font-weight="bold">*</text>
<rect x="339.50" y="186.30" width="9.90" height="17.10" fill="#ff0000" stroke="#111" stroke-width="0.85"/>
<rect x="355.50" y="149.10" width="10.10" height="54.30" fill="#ffff00" stroke="#111" stroke-width="0.85"/>
<line x1="360.55" y1="149.10" x2="360.55" y2="146.40" stroke="#111" stroke-width="1.0"/>
<line x1="357.77" y1="146.90" x2="363.33" y2="146.90" stroke="#111" stroke-width="1.1"/>
<text x="360.55" y="146.37" font-size="9.0" text-anchor="middle" fill="#1a1a1a" font-weight="bold">*</text>
<text transform="translate(269.00,172.60) rotate(-90)" x="0" y="0" font-size="6.8" text-anchor="middle" fill="#111" font-weight="bold" stroke="#111" stroke-width="0.25" textLength="51.20" lengthAdjust="spacingAndGlyphs">Relative Express</text>
<text transform="translate(276.70,172.10) rotate(-90)" x="0" y="0" font-size="6.8" text-anchor="middle" fill="#111" font-weight="bold" stroke="#111" stroke-width="0.25" textLength="71.70" lengthAdjust="spacingAndGlyphs">(Normalized by β-actin)</text>
<text x="313.00" y="136.01" font-size="6.6" text-anchor="start" fill="#111" font-weight="bold" textLength="24.80" lengthAdjust="spacingAndGlyphs" stroke="#111" stroke-width="0.25">Hypoxia</text>
<text x="300.00" y="214.71" font-size="6.6" text-anchor="start" fill="#111" font-weight="bold" textLength="20.00" lengthAdjust="spacingAndGlyphs" stroke="#111" stroke-width="0.25">HIF-1α</text>
<text x="337.00" y="214.71" font-size="6.6" text-anchor="start" fill="#111" font-weight="bold" textLength="26.00" lengthAdjust="spacingAndGlyphs" stroke="#111" stroke-width="0.25">p-HIF-1α</text>
<rect x="374.35" y="148.95" width="5.10" height="2.50" fill="#ff0000" stroke="#111" stroke-width="1.1"/>
<text x="381.90" y="151.92" font-size="6.4" text-anchor="start" fill="#111" font-weight="bold" textLength="22.60" lengthAdjust="spacingAndGlyphs" stroke="#111" stroke-width="0.25">Control</text>
<rect x="374.35" y="156.45" width="5.10" height="2.50" fill="#ffff00" stroke="#111" stroke-width="1.1"/>
<text x="381.90" y="160.42" font-size="6.4" text-anchor="start" fill="#111" font-weight="bold" textLength="11.20" lengthAdjust="spacingAndGlyphs" stroke="#111" stroke-width="0.25">Tβ4</text>
<text x="0.50" y="251.90" font-size="12.8" text-anchor="start" fill="#000" font-weight="bold" textLength="8.60" lengthAdjust="spacingAndGlyphs" stroke="#000" stroke-width="0.45">C</text>
<text x="11.60" y="256.98" font-size="6.3" text-anchor="start" fill="#111" font-weight="bold" textLength="20.20" lengthAdjust="spacingAndGlyphs" stroke="#111" stroke-width="0.25">HIF-1α</text>
<text x="5.00" y="288.58" font-size="6.3" text-anchor="start" fill="#111" font-weight="bold" textLength="26.80" lengthAdjust="spacingAndGlyphs" stroke="#111" stroke-width="0.25">p-HIF-1α</text>
<text x="10.10" y="327.48" font-size="6.3" text-anchor="start" fill="#111" font-weight="bold" textLength="21.50" lengthAdjust="spacingAndGlyphs" stroke="#111" stroke-width="0.25">β-actin</text>
<text x="37.60" y="348.11" font-size="6.6" text-anchor="start" fill="#111" font-weight="bold" textLength="23.60" lengthAdjust="spacingAndGlyphs" stroke="#111" stroke-width="0.25">Control</text>
<text x="69.60" y="348.11" font-size="6.6" text-anchor="start" fill="#111" font-weight="bold" textLength="11.60" lengthAdjust="spacingAndGlyphs" stroke="#111" stroke-width="0.25">Tβ4</text>
<text x="98.10" y="348.11" font-size="6.6" text-anchor="start" fill="#111" font-weight="bold" textLength="13.70" lengthAdjust="spacingAndGlyphs" stroke="#111" stroke-width="0.25">CHX</text>
<text x="117.70" y="348.11" font-size="6.6" text-anchor="start" fill="#111" font-weight="bold" textLength="28.90" lengthAdjust="spacingAndGlyphs" stroke="#111" stroke-width="0.25">Tβ4+CHX</text>
<rect x="35.90" y="245.90" width="113.90" height="14.90" fill="#f2f2f2" filter="url(#b6)"/>
<rect x="38.90" y="250.85" width="20.80" height="5.30" rx="3.07" ry="2.65" fill="#080808" filter="url(#b6)"/>
<rect x="67.20" y="251.35" width="21.80" height="6.30" rx="3.65" ry="3.15" fill="#080808" filter="url(#b6)"/>
<rect x="96.30" y="253.25" width="19.20" height="3.30" rx="1.91" ry="1.65" fill="#080808" filter="url(#b6)"/>
<rect x="124.00" y="250.95" width="21.80" height="5.90" rx="3.42" ry="2.95" fill="#080808" filter="url(#b6)"/>
<rect x="37.50" y="280.60" width="108.30" height="16.40" fill="#eeeeee" filter="url(#b6)"/>
<rect x="42.90" y="286.20" width="13.80" height="3.80" rx="2.20" ry="1.90" fill="#080808" filter="url(#b6)" opacity="0.9"/>
<rect x="68.60" y="285.20" width="16.80" height="4.60" rx="2.67" ry="2.30" fill="#080808" filter="url(#b6)"/>
<rect x="98.30" y="287.10" width="12.50" height="2.80" rx="1.62" ry="1.40" fill="#555" filter="url(#b9)" opacity="0.65"/>
<rect x="123.50" y="285.60" width="15.00" height="4.60" rx="2.67" ry="2.30" fill="#080808" filter="url(#b6)"/>
<rect x="35.90" y="316.90" width="110.70" height="19.00" fill="#f1f1f1" filter="url(#b6)"/>
<rect x="39.30" y="322.05" width="19.60" height="9.50" rx="4.50" ry="4.75" fill="#080808" filter="url(#b6)"/>
<rect x="67.10" y="322.05" width="19.80" height="9.50" rx="4.50" ry="4.75" fill="#080808" filter="url(#b6)"/>
<rect x="94.30" y="322.05" width="20.70" height="9.50" rx="4.50" ry="4.75" fill="#080808" filter="url(#b6)"/>
<rect x="121.90" y="322.05" width="19.90" height="9.50" rx="4.50" ry="4.75" fill="#080808" filter="url(#b6)"/>
<line x1="191.40" y1="251.40" x2="191.40" y2="338.50" stroke="#111" stroke-width="0.9"/>
<line x1="189.40" y1="338.50" x2="191.40" y2="338.50" stroke="#111" stroke-width="0.9"/>
<text x="186.20" y="336.88" font-size="6.3" text-anchor="end" fill="#222" font-weight="bold" stroke="#222" stroke-width="0.25">0</text>
<line x1="189.40" y1="309.60" x2="191.40" y2="309.60" stroke="#111" stroke-width="0.9"/>
<text x="186.20" y="313.08" font-size="6.3" text-anchor="end" fill="#222" font-weight="bold" stroke="#222" stroke-width="0.25">1</text>
<line x1="189.40" y1="280.50" x2="191.40" y2="280.50" stroke="#111" stroke-width="0.9"/>
<text x="186.20" y="281.88" font-size="6.3" text-anchor="end" fill="#222" font-weight="bold" stroke="#222" stroke-width="0.25">2</text>
<line x1="189.40" y1="251.40" x2="191.40" y2="251.40" stroke="#111" stroke-width="0.9"/>
<text x="186.20" y="258.08" font-size="6.3" text-anchor="end" fill="#222" font-weight="bold" stroke="#222" stroke-width="0.25">3</text>
<line x1="185.00" y1="340.30" x2="186.80" y2="340.30" stroke="#111" stroke-width="0.6"/>
<line x1="191.40" y1="338.50" x2="323.70" y2="338.50" stroke="#111" stroke-width="0.9"/>
<line x1="224.60" y1="338.50" x2="224.60" y2="341.10" stroke="#111" stroke-width="0.8"/>
<line x1="290.20" y1="338.50" x2="290.20" y2="341.10" stroke="#111" stroke-width="0.8"/>
<rect x="199.30" y="310.00" width="8.10" height="28.50" fill="#ff0000" stroke="#111" stroke-width="1.1"/>
<rect x="213.40" y="286.10" width="8.10" height="52.40" fill="#ffff00" stroke="#111" stroke-width="1.1"/>
<line x1="217.45" y1="286.10" x2="217.45" y2="279.30" stroke="#111" stroke-width="1.0"/>
<line x1="215.22" y1="279.80" x2="219.68" y2="279.80" stroke="#111" stroke-width="1.1"/>
<text x="217.45" y="276.33" font-size="10.5" text-anchor="middle" fill="#1a1a1a" font-weight="bold">*</text>
<rect x="227.30" y="326.20" width="8.50" height="12.30" fill="#0000ff" stroke="#111" stroke-width="1.1"/>
<line x1="231.55" y1="326.20" x2="231.55" y2="323.10" stroke="#111" stroke-width="1.0"/>
<line x1="229.21" y1="323.60" x2="233.89" y2="323.60" stroke="#111" stroke-width="1.1"/>
<text x="228.35" y="320.33" font-size="10.5" text-anchor="middle" fill="#1a1a1a" font-weight="bold">*</text>
<text x="234.75" y="317.83" font-size="8.2" text-anchor="middle" fill="#2a2a2a" font-style="italic" stroke="#2a2a2a" stroke-width="0.25">#</text>
<rect x="241.40" y="308.10" width="8.60" height="30.40" fill="#00ff00" stroke="#111" stroke-width="1.1"/>
<line x1="245.70" y1="308.10" x2="245.70" y2="305.90" stroke="#111" stroke-width="1.0"/>
<line x1="243.33" y1="306.40" x2="248.06" y2="306.40" stroke="#111" stroke-width="1.1"/>
<text x="242.50" y="300.93" font-size="8.2" text-anchor="middle" fill="#2a2a2a" font-style="italic" stroke="#2a2a2a" stroke-width="0.25">#</text>
<text x="248.90" y="300.60" font-size="7.4" text-anchor="middle" fill="#2a2a2a" stroke="#2a2a2a" stroke-width="0.3">+</text>
<rect x="265.30" y="310.40" width="8.10" height="28.10" fill="#ff0000" stroke="#111" stroke-width="1.1"/>
<rect x="279.60" y="262.50" width="8.10" height="76.00" fill="#ffff00" stroke="#111" stroke-width="1.1"/>
<line x1="283.65" y1="262.50" x2="283.65" y2="252.40" stroke="#111" stroke-width="1.0"/>
<line x1="281.42" y1="252.90" x2="285.88" y2="252.90" stroke="#111" stroke-width="1.1"/>
<text x="283.65" y="251.63" font-size="10.5" text-anchor="middle" fill="#1a1a1a" font-weight="bold">*</text>
<rect x="293.30" y="322.90" width="8.50" height="15.60" fill="#0000ff" stroke="#111" stroke-width="1.1"/>
<line x1="297.55" y1="322.90" x2="297.55" y2="320.70" stroke="#111" stroke-width="1.0"/>
<line x1="295.21" y1="321.20" x2="299.89" y2="321.20" stroke="#111" stroke-width="1.1"/>
<text x="294.35" y="319.73" font-size="10.5" text-anchor="middle" fill="#1a1a1a" font-weight="bold">*</text>
<text x="300.75" y="317.23" font-size="8.2" text-anchor="middle" fill="#2a2a2a" font-style="italic" stroke="#2a2a2a" stroke-width="0.25">#</text>
<rect x="308.10" y="301.20" width="8.30" height="37.30" fill="#00ff00" stroke="#111" stroke-width="1.1"/>
<line x1="312.25" y1="301.20" x2="312.25" y2="298.10" stroke="#111" stroke-width="1.0"/>
<line x1="309.97" y1="298.60" x2="314.53" y2="298.60" stroke="#111" stroke-width="1.1"/>
<text x="305.85" y="297.53" font-size="10.5" text-anchor="middle" fill="#1a1a1a" font-weight="bold">*</text>
<text x="312.25" y="295.03" font-size="8.2" text-anchor="middle" fill="#2a2a2a" font-style="italic" stroke="#2a2a2a" stroke-width="0.25">#</text>
<text x="318.65" y="294.70" font-size="7.4" text-anchor="middle" fill="#2a2a2a" stroke="#2a2a2a" stroke-width="0.3">+</text>
<text transform="translate(166.70,295.00) rotate(-90)" x="0" y="0" font-size="6.8" text-anchor="middle" fill="#111" font-weight="bold" stroke="#111" stroke-width="0.25" textLength="52.00" lengthAdjust="spacingAndGlyphs">Relative Express</text>
<text transform="translate(175.10,295.00) rotate(-90)" x="0" y="0" font-size="6.8" text-anchor="middle" fill="#111" font-weight="bold" stroke="#111" stroke-width="0.25" textLength="71.60" lengthAdjust="spacingAndGlyphs">(Normalized by β-actin)</text>
<text x="212.70" y="352.01" font-size="6.6" text-anchor="start" fill="#111" font-weight="bold" textLength="20.20" lengthAdjust="spacingAndGlyphs" stroke="#111" stroke-width="0.25">HIF-1α</text>
<text x="274.80" y="352.01" font-size="6.6" text-anchor="start" fill="#111" font-weight="bold" textLength="26.20" lengthAdjust="spacingAndGlyphs" stroke="#111" stroke-width="0.25">p-HIF-1α</text>
<rect x="324.80" y="254.00" width="7.60" height="3.00" fill="#ff0000" stroke="#111" stroke-width="1.4"/>
<text x="339.00" y="256.45" font-size="6.7" text-anchor="start" fill="#111" font-weight="bold" textLength="23.00" lengthAdjust="spacingAndGlyphs" stroke="#111" stroke-width="0.25">Control</text>
<rect x="324.80" y="266.10" width="7.60" height="3.00" fill="#ffff00" stroke="#111" stroke-width="1.4"/>
<text x="339.00" y="269.05" font-size="6.7" text-anchor="start" fill="#111" font-weight="bold" textLength="11.40" lengthAdjust="spacingAndGlyphs" stroke="#111" stroke-width="0.25">Tβ4</text>
<rect x="324.80" y="277.40" width="7.60" height="3.00" fill="#0000ff" stroke="#111" stroke-width="1.4"/>
<text x="339.00" y="280.85" font-size="6.7" text-anchor="start" fill="#111" font-weight="bold" textLength="13.50" lengthAdjust="spacingAndGlyphs" stroke="#111" stroke-width="0.25">CHX</text>
<rect x="324.80" y="288.80" width="7.60" height="3.00" fill="#00ff00" stroke="#111" stroke-width="1.4"/>
<text x="339.00" y="292.75" font-size="6.7" text-anchor="start" fill="#111" font-weight="bold" textLength="29.10" lengthAdjust="spacingAndGlyphs" stroke="#111" stroke-width="0.25">Tβ4+CHX</text>
<text x="415.30" y="11.20" font-size="12.8" text-anchor="start" fill="#000" font-weight="bold" textLength="8.60" lengthAdjust="spacingAndGlyphs" stroke="#000" stroke-width="0.45">D</text>
<text x="431.00" y="17.41" font-size="6.6" text-anchor="start" fill="#111" font-weight="bold" textLength="20.00" lengthAdjust="spacingAndGlyphs" stroke="#111" stroke-width="0.25">HIF-1α</text>
<text x="424.90" y="40.31" font-size="6.6" text-anchor="start" fill="#111" font-weight="bold" textLength="25.90" lengthAdjust="spacingAndGlyphs" stroke="#111" stroke-width="0.25">p-HIF-1α</text>
<text x="431.40" y="64.31" font-size="6.6" text-anchor="start" fill="#111" font-weight="bold" textLength="18.80" lengthAdjust="spacingAndGlyphs" stroke="#111" stroke-width="0.25">p-AKT</text>
<text x="429.60" y="80.01" font-size="6.6" text-anchor="start" fill="#111" font-weight="bold" textLength="21.20" lengthAdjust="spacingAndGlyphs" stroke="#111" stroke-width="0.25">β-actin</text>
<text x="446.20" y="94.81" font-size="6.6" text-anchor="start" fill="#111" font-weight="bold" textLength="22.50" lengthAdjust="spacingAndGlyphs" stroke="#111" stroke-width="0.25">Control</text>
<text x="475.40" y="94.81" font-size="6.6" text-anchor="start" fill="#111" font-weight="bold" textLength="11.00" lengthAdjust="spacingAndGlyphs" stroke="#111" stroke-width="0.25">Tβ4</text>
<text x="493.80" y="94.81" font-size="6.6" text-anchor="start" fill="#111" font-weight="bold" textLength="11.10" lengthAdjust="spacingAndGlyphs" stroke="#111" stroke-width="0.25">WM</text>
<text x="511.20" y="94.81" font-size="6.6" text-anchor="start" fill="#111" font-weight="bold" textLength="26.40" lengthAdjust="spacingAndGlyphs" stroke="#111" stroke-width="0.25">Tβ4+WM</text>
<rect x="453.20" y="9.30" width="78.40" height="10.90" fill="#f1f1f1" filter="url(#b6)"/>
<rect x="455.50" y="13.00" width="13.70" height="3.50" rx="2.03" ry="1.75" fill="#080808" filter="url(#b6)"/>
<rect x="475.40" y="12.20" width="14.00" height="5.10" rx="2.96" ry="2.55" fill="#080808" filter="url(#b6)"/>
<rect x="495.10" y="13.65" width="13.50" height="2.90" rx="1.68" ry="1.45" fill="#080808" filter="url(#b6)" opacity="0.9"/>
<rect x="515.30" y="12.65" width="14.00" height="3.30" rx="1.91" ry="1.65" fill="#080808" filter="url(#b6)"/>
<rect x="453.20" y="31.80" width="78.40" height="12.50" fill="#f1f1f1" filter="url(#b6)"/>
<path d="M455.5,36.0 Q458.5,35.0 460.5,37.0 Q462.5,38.6 464.5,39.0 L464.3,41.0 Q461,41.4 459,40.0 Q457,39.4 455.4,39.0 Z" fill="#080808" filter="url(#b6)"/>
<rect x="475.40" y="36.25" width="12.40" height="4.30" rx="2.49" ry="2.15" fill="#080808" filter="url(#b6)"/>
<rect x="495.10" y="37.25" width="7.40" height="2.90" rx="1.68" ry="1.45" fill="#080808" filter="url(#b6)" opacity="0.85"/>
<rect x="500.00" y="37.90" width="6.80" height="2.00" rx="1.16" ry="1.00" fill="#888" filter="url(#b8)" opacity="0.5"/>
<rect x="514.80" y="36.75" width="11.80" height="3.90" rx="2.26" ry="1.95" fill="#080808" filter="url(#b6)"/>
<rect x="453.60" y="56.50" width="78.40" height="8.80" fill="#f0f0f0" filter="url(#b6)"/>
<rect x="455.40" y="59.90" width="12.90" height="1.60" rx="0.93" ry="0.80" fill="#777" filter="url(#b8)" opacity="0.6"/>
<ellipse cx="465.40" cy="60.70" rx="1.60" ry="1.00" fill="#222" filter="url(#b6)" opacity="0.8"/>
<rect x="474.80" y="58.15" width="13.90" height="4.30" rx="2.49" ry="2.15" fill="#080808" filter="url(#b6)"/>
<rect x="494.60" y="59.55" width="12.50" height="2.90" rx="1.68" ry="1.45" fill="#080808" filter="url(#b6)" opacity="0.85"/>
<rect x="513.60" y="59.05" width="12.40" height="3.30" rx="1.91" ry="1.65" fill="#080808" filter="url(#b6)" opacity="0.9"/>
<rect x="453.20" y="69.90" width="78.80" height="13.60" fill="#ebebeb" filter="url(#b6)"/>
<rect x="454.10" y="73.20" width="16.80" height="6.80" rx="3.94" ry="3.40" fill="#080808" filter="url(#b6)"/>
<rect x="474.30" y="73.20" width="16.20" height="6.80" rx="3.94" ry="3.40" fill="#080808" filter="url(#b6)"/>
<rect x="493.30" y="73.20" width="16.00" height="6.80" rx="3.94" ry="3.40" fill="#080808" filter="url(#b6)"/>
<rect x="512.70" y="73.20" width="17.50" height="6.80" rx="3.94" ry="3.40" fill="#080808" filter="url(#b6)"/>
<line x1="576.70" y1="1.50" x2="576.70" y2="92.60" stroke="#111" stroke-width="0.9"/>
<line x1="574.10" y1="92.60" x2="576.70" y2="92.60" stroke="#111" stroke-width="0.9"/>
<text x="571.80" y="94.88" font-size="6.3" text-anchor="end" fill="#222" font-weight="bold" stroke="#222" stroke-width="0.25">0</text>
<line x1="574.10" y1="70.10" x2="576.70" y2="70.10" stroke="#111" stroke-width="0.9"/>
<text x="571.80" y="73.48" font-size="6.3" text-anchor="end" fill="#222" font-weight="bold" stroke="#222" stroke-width="0.25">1</text>
<line x1="574.10" y1="47.50" x2="576.70" y2="47.50" stroke="#111" stroke-width="0.9"/>
<text x="571.80" y="51.08" font-size="6.3" text-anchor="end" fill="#222" font-weight="bold" stroke="#222" stroke-width="0.25">2</text>
<line x1="574.10" y1="24.20" x2="576.70" y2="24.20" stroke="#111" stroke-width="0.9"/>
<text x="571.80" y="28.78" font-size="6.3" text-anchor="end" fill="#222" font-weight="bold" stroke="#222" stroke-width="0.25">3</text>
<line x1="574.10" y1="1.50" x2="576.70" y2="1.50" stroke="#111" stroke-width="0.9"/>
<text x="571.80" y="7.08" font-size="6.3" text-anchor="end" fill="#222" font-weight="bold" stroke="#222" stroke-width="0.25">4</text>
<line x1="573.50" y1="92.60" x2="716.00" y2="92.60" stroke="#111" stroke-width="0.9"/>
<line x1="599.60" y1="92.60" x2="599.60" y2="95.20" stroke="#111" stroke-width="0.8"/>
<line x1="646.10" y1="92.60" x2="646.10" y2="95.20" stroke="#111" stroke-width="0.8"/>
<line x1="692.20" y1="92.60" x2="692.20" y2="95.20" stroke="#111" stroke-width="0.8"/>
<rect x="582.00" y="70.50" width="5.70" height="22.10" fill="#ff0000" stroke="#111" stroke-width="1.1"/>
<rect x="592.00" y="47.40" width="5.60" height="45.20" fill="#ffff00" stroke="#111" stroke-width="1.1"/>
<line x1="594.80" y1="47.40" x2="594.80" y2="43.20" stroke="#111" stroke-width="1.0"/>
<line x1="593.26" y1="43.70" x2="596.34" y2="43.70" stroke="#111" stroke-width="1.1"/>
<text x="594.80" y="41.26" font-size="8.4" text-anchor="middle" fill="#1a1a1a" font-weight="bold">*</text>
<rect x="601.80" y="78.00" width="5.60" height="14.60" fill="#0000ff" stroke="#111" stroke-width="1.1"/>
<line x1="604.60" y1="78.00" x2="604.60" y2="75.40" stroke="#111" stroke-width="1.0"/>
<line x1="603.06" y1="75.90" x2="606.14" y2="75.90" stroke="#111" stroke-width="1.1"/>
<text x="602.05" y="75.96" font-size="8.4" text-anchor="middle" fill="#1a1a1a" font-weight="bold">*</text>
<text x="607.15" y="74.46" font-size="8.0" text-anchor="middle" fill="#2a2a2a" font-style="italic" stroke="#2a2a2a" stroke-width="0.25">#</text>
<rect x="611.40" y="69.80" width="5.80" height="22.80" fill="#00ff00" stroke="#111" stroke-width="1.1"/>
<line x1="614.30" y1="69.80" x2="614.30" y2="67.80" stroke="#111" stroke-width="1.0"/>
<line x1="612.70" y1="68.30" x2="615.89" y2="68.30" stroke="#111" stroke-width="1.1"/>
<text x="611.75" y="65.46" font-size="8.0" text-anchor="middle" fill="#2a2a2a" font-style="italic" stroke="#2a2a2a" stroke-width="0.25">#</text>
<text x="616.85" y="65.13" font-size="7.2" text-anchor="middle" fill="#2a2a2a" stroke="#2a2a2a" stroke-width="0.3">+</text>
<rect x="628.50" y="70.50" width="5.80" height="22.10" fill="#ff0000" stroke="#111" stroke-width="1.1"/>
<rect x="638.40" y="29.90" width="5.70" height="62.70" fill="#ffff00" stroke="#111" stroke-width="1.1"/>
<line x1="641.25" y1="29.90" x2="641.25" y2="23.20" stroke="#111" stroke-width="1.0"/>
<line x1="639.68" y1="23.70" x2="642.82" y2="23.70" stroke="#111" stroke-width="1.1"/>
<text x="641.25" y="21.26" font-size="8.4" text-anchor="middle" fill="#1a1a1a" font-weight="bold">*</text>
<rect x="648.30" y="81.10" width="5.90" height="11.50" fill="#0000ff" stroke="#111" stroke-width="1.1"/>
<line x1="651.25" y1="81.10" x2="651.25" y2="78.30" stroke="#111" stroke-width="1.0"/>
<line x1="649.63" y1="78.80" x2="652.87" y2="78.80" stroke="#111" stroke-width="1.1"/>
<text x="648.70" y="79.16" font-size="8.4" text-anchor="middle" fill="#1a1a1a" font-weight="bold">*</text>
<text x="653.80" y="77.66" font-size="8.0" text-anchor="middle" fill="#2a2a2a" font-style="italic" stroke="#2a2a2a" stroke-width="0.25">#</text>
<rect x="658.20" y="53.20" width="5.80" height="39.40" fill="#00ff00" stroke="#111" stroke-width="1.1"/>
<line x1="661.10" y1="53.20" x2="661.10" y2="50.80" stroke="#111" stroke-width="1.0"/>
<line x1="659.50" y1="51.30" x2="662.70" y2="51.30" stroke="#111" stroke-width="1.1"/>
<text x="656.00" y="49.16" font-size="8.4" text-anchor="middle" fill="#1a1a1a" font-weight="bold">*</text>
<text x="661.10" y="47.66" font-size="8.0" text-anchor="middle" fill="#2a2a2a" font-style="italic" stroke="#2a2a2a" stroke-width="0.25">#</text>
<text x="666.20" y="47.33" font-size="7.2" text-anchor="middle" fill="#2a2a2a" stroke="#2a2a2a" stroke-width="0.3">+</text>
<rect x="675.10" y="70.50" width="5.80" height="22.10" fill="#ff0000" stroke="#111" stroke-width="1.1"/>
<rect x="684.80" y="21.30" width="5.90" height="71.30" fill="#ffff00" stroke="#111" stroke-width="1.1"/>
<line x1="687.75" y1="21.30" x2="687.75" y2="13.10" stroke="#111" stroke-width="1.0"/>
<line x1="686.13" y1="13.60" x2="689.37" y2="13.60" stroke="#111" stroke-width="1.1"/>
<text x="687.75" y="11.86" font-size="8.4" text-anchor="middle" fill="#1a1a1a" font-weight="bold">*</text>
<rect x="695.00" y="73.60" width="5.70" height="19.00" fill="#0000ff" stroke="#111" stroke-width="1.1"/>
<line x1="697.85" y1="73.60" x2="697.85" y2="72.50" stroke="#111" stroke-width="1.0"/>
<line x1="696.28" y1="73.00" x2="699.42" y2="73.00" stroke="#111" stroke-width="1.1"/>
<text x="695.30" y="71.36" font-size="8.4" text-anchor="middle" fill="#1a1a1a" font-weight="bold">*</text>
<text x="700.40" y="69.86" font-size="8.0" text-anchor="middle" fill="#2a2a2a" font-style="italic" stroke="#2a2a2a" stroke-width="0.25">#</text>
<rect x="705.10" y="60.40" width="5.70" height="32.20" fill="#00ff00" stroke="#111" stroke-width="1.1"/>
<line x1="707.95" y1="60.40" x2="707.95" y2="58.10" stroke="#111" stroke-width="1.0"/>
<line x1="706.38" y1="58.60" x2="709.52" y2="58.60" stroke="#111" stroke-width="1.1"/>
<text x="702.85" y="55.46" font-size="8.4" text-anchor="middle" fill="#1a1a1a" font-weight="bold">*</text>
<text x="707.95" y="53.96" font-size="8.0" text-anchor="middle" fill="#2a2a2a" font-style="italic" stroke="#2a2a2a" stroke-width="0.25">#</text>
<text x="713.05" y="53.63" font-size="7.2" text-anchor="middle" fill="#2a2a2a" stroke="#2a2a2a" stroke-width="0.3">+</text>
<text transform="translate(556.00,47.45) rotate(-90)" x="0" y="0" font-size="6.8" text-anchor="middle" fill="#111" font-weight="bold" stroke="#111" stroke-width="0.25" textLength="52.30" lengthAdjust="spacingAndGlyphs">Relative Express</text>
<text transform="translate(563.60,47.50) rotate(-90)" x="0" y="0" font-size="6.8" text-anchor="middle" fill="#111" font-weight="bold" stroke="#111" stroke-width="0.25" textLength="71.60" lengthAdjust="spacingAndGlyphs">(Normalized by β-actin)</text>
<text x="590.80" y="106.11" font-size="6.6" text-anchor="start" fill="#111" font-weight="bold" textLength="20.20" lengthAdjust="spacingAndGlyphs" stroke="#111" stroke-width="0.25">HIF-1α</text>
<text x="633.00" y="106.11" font-size="6.6" text-anchor="start" fill="#111" font-weight="bold" textLength="26.20" lengthAdjust="spacingAndGlyphs" stroke="#111" stroke-width="0.25">p-HIF-1α</text>
<text x="684.60" y="106.11" font-size="6.6" text-anchor="start" fill="#111" font-weight="bold" textLength="19.80" lengthAdjust="spacingAndGlyphs" stroke="#111" stroke-width="0.25">p-AKT</text>
<rect x="717.90" y="3.65" width="8.00" height="3.10" fill="#ff0000" stroke="#111" stroke-width="1.4"/>
<text x="728.90" y="7.61" font-size="6.6" text-anchor="start" fill="#111" font-weight="bold" textLength="22.30" lengthAdjust="spacingAndGlyphs" stroke="#111" stroke-width="0.25">Control</text>
<rect x="717.90" y="15.85" width="8.00" height="3.10" fill="#ffff00" stroke="#111" stroke-width="1.4"/>
<text x="728.90" y="19.61" font-size="6.6" text-anchor="start" fill="#111" font-weight="bold" textLength="11.40" lengthAdjust="spacingAndGlyphs" stroke="#111" stroke-width="0.25">Tβ4</text>
<rect x="717.90" y="27.85" width="8.00" height="3.10" fill="#0000ff" stroke="#111" stroke-width="1.4"/>
<text x="728.90" y="31.91" font-size="6.6" text-anchor="start" fill="#111" font-weight="bold" textLength="11.00" lengthAdjust="spacingAndGlyphs" stroke="#111" stroke-width="0.25">WM</text>
<rect x="717.90" y="40.05" width="8.00" height="3.10" fill="#00ff00" stroke="#111" stroke-width="1.4"/>
<text x="728.90" y="44.31" font-size="6.6" text-anchor="start" fill="#111" font-weight="bold" textLength="26.10" lengthAdjust="spacingAndGlyphs" stroke="#111" stroke-width="0.25">Tβ4+WM</text>
<text x="415.80" y="131.90" font-size="12.8" text-anchor="start" fill="#000" font-weight="bold" textLength="7.94" lengthAdjust="spacingAndGlyphs" stroke="#000" stroke-width="0.45">E</text>
<text x="421.00" y="142.31" font-size="6.6" text-anchor="start" fill="#111" font-weight="bold" textLength="20.90" lengthAdjust="spacingAndGlyphs" stroke="#111" stroke-width="0.25">HIF-1α</text>
<text x="414.70" y="166.01" font-size="6.6" text-anchor="start" fill="#111" font-weight="bold" textLength="26.70" lengthAdjust="spacingAndGlyphs" stroke="#111" stroke-width="0.25">p-HIF-1α</text>
<text x="427.80" y="187.71" font-size="6.6" text-anchor="start" fill="#111" font-weight="bold" textLength="13.60" lengthAdjust="spacingAndGlyphs" stroke="#111" stroke-width="0.25">PHD</text>
<text x="419.80" y="211.51" font-size="6.6" text-anchor="start" fill="#111" font-weight="bold" textLength="21.60" lengthAdjust="spacingAndGlyphs" stroke="#111" stroke-width="0.25">β-actin</text>
<text x="441.40" y="224.91" font-size="6.6" text-anchor="start" fill="#111" font-weight="bold" textLength="22.50" lengthAdjust="spacingAndGlyphs" stroke="#111" stroke-width="0.25">Control</text>
<text x="468.50" y="224.91" font-size="6.6" text-anchor="start" fill="#111" font-weight="bold" textLength="11.00" lengthAdjust="spacingAndGlyphs" stroke="#111" stroke-width="0.25">Tβ4</text>
<text x="487.10" y="224.91" font-size="6.6" text-anchor="start" fill="#111" font-weight="bold" textLength="8.50" lengthAdjust="spacingAndGlyphs" stroke="#111" stroke-width="0.25">FG</text>
<text x="502.40" y="224.91" font-size="6.6" text-anchor="start" fill="#111" font-weight="bold" textLength="23.70" lengthAdjust="spacingAndGlyphs" stroke="#111" stroke-width="0.25">Tβ4+FG</text>
<rect x="444.70" y="134.50" width="80.60" height="12.70" fill="#f3f3f3" filter="url(#b6)"/>
<rect x="449.80" y="138.95" width="13.10" height="3.70" rx="2.15" ry="1.85" fill="#080808" filter="url(#b6)"/>
<rect x="468.50" y="139.65" width="13.50" height="3.90" rx="2.26" ry="1.95" fill="#080808" filter="url(#b6)"/>
<rect x="487.60" y="138.85" width="15.30" height="4.90" rx="2.84" ry="2.45" fill="#080808" filter="url(#b6)"/>
<rect x="507.00" y="137.75" width="15.20" height="5.30" rx="3.07" ry="2.65" fill="#080808" filter="url(#b6)"/>
<rect x="444.70" y="157.40" width="80.60" height="13.60" fill="#eeeeee" filter="url(#b6)"/>
<ellipse cx="449.50" cy="163.80" rx="1.20" ry="0.60" fill="#555" filter="url(#b5)" opacity="0.6"/>
<ellipse cx="454.50" cy="163.80" rx="1.20" ry="0.60" fill="#555" filter="url(#b5)" opacity="0.6"/>
<ellipse cx="459.50" cy="163.80" rx="1.20" ry="0.60" fill="#555" filter="url(#b5)" opacity="0.6"/>
<rect x="467.60" y="162.25" width="13.90" height="3.90" rx="2.26" ry="1.95" fill="#080808" filter="url(#b6)"/>
<rect x="487.10" y="162.25" width="14.40" height="3.90" rx="2.26" ry="1.95" fill="#080808" filter="url(#b6)"/>
<rect x="506.60" y="161.35" width="15.30" height="4.90" rx="2.84" ry="2.45" fill="#080808" filter="url(#b6)"/>
<rect x="444.70" y="179.30" width="78.90" height="11.90" fill="#f1f1f1" filter="url(#b6)"/>
<rect x="447.00" y="181.55" width="15.50" height="5.70" rx="3.31" ry="2.85" fill="#080808" filter="url(#b6)"/>
<rect x="467.60" y="182.55" width="14.40" height="4.30" rx="2.49" ry="2.15" fill="#080808" filter="url(#b6)"/>
<rect x="487.10" y="183.95" width="13.60" height="3.30" rx="1.91" ry="1.65" fill="#080808" filter="url(#b6)"/>
<path d="M506.4,184.9 Q506.6,182.8 511,182.9 Q515,183.3 519.0,184.9 Q515,186.6 511,186.9 Q506.6,187.0 506.4,184.9 Z" fill="#080808" filter="url(#b5)"/>
<rect x="444.70" y="201.40" width="80.60" height="11.80" fill="#e8e8e8" filter="url(#b6)"/>
<rect x="446.40" y="204.35" width="15.80" height="7.10" rx="4.12" ry="3.55" fill="#080808" filter="url(#b6)"/>
<rect x="466.00" y="204.35" width="15.20" height="7.10" rx="4.12" ry="3.55" fill="#080808" filter="url(#b6)"/>
<rect x="484.60" y="204.35" width="16.10" height="7.10" rx="4.12" ry="3.55" fill="#080808" filter="url(#b6)"/>
<rect x="503.60" y="204.35" width="16.20" height="7.10" rx="4.12" ry="3.55" fill="#080808" filter="url(#b6)"/>
<line x1="572.30" y1="125.00" x2="572.30" y2="151.70" stroke="#111" stroke-width="0.9"/>
<line x1="570.50" y1="151.70" x2="574.50" y2="151.70" stroke="#111" stroke-width="0.9"/>
<line x1="570.10" y1="124.99" x2="572.30" y2="124.99" stroke="#111" stroke-width="0.9"/>
<text x="568.70" y="127.58" font-size="6.3" text-anchor="end" fill="#222" font-weight="bold" stroke="#222" stroke-width="0.25">5</text>
<line x1="570.10" y1="132.76" x2="572.30" y2="132.76" stroke="#111" stroke-width="0.9"/>
<text x="568.70" y="134.98" font-size="6.3" text-anchor="end" fill="#222" font-weight="bold" stroke="#222" stroke-width="0.25">4</text>
<line x1="570.10" y1="140.53" x2="572.30" y2="140.53" stroke="#111" stroke-width="0.9"/>
<text x="568.70" y="142.98" font-size="6.3" text-anchor="end" fill="#222" font-weight="bold" stroke="#222" stroke-width="0.25">3</text>
<line x1="570.10" y1="148.30" x2="572.30" y2="148.30" stroke="#111" stroke-width="0.9"/>
<text x="568.70" y="151.88" font-size="6.3" text-anchor="end" fill="#222" font-weight="bold" stroke="#222" stroke-width="0.25">2</text>
<line x1="572.30" y1="159.30" x2="572.30" y2="221.00" stroke="#111" stroke-width="0.9"/>
<line x1="570.50" y1="159.30" x2="574.50" y2="159.30" stroke="#111" stroke-width="0.9"/>
<line x1="570.10" y1="165.50" x2="572.30" y2="165.50" stroke="#111" stroke-width="0.9"/>
<text x="568.70" y="167.88" font-size="6.3" text-anchor="end" fill="#222" font-weight="bold" stroke="#222" stroke-width="0.25">1</text>
<line x1="570.10" y1="193.25" x2="572.30" y2="193.25" stroke="#111" stroke-width="0.9"/>
<text x="568.70" y="194.78" font-size="6.3" text-anchor="end" fill="#222" font-weight="bold" stroke="#222" stroke-width="0.25">0.5</text>
<line x1="570.10" y1="221.00" x2="572.30" y2="221.00" stroke="#111" stroke-width="0.9"/>
<text x="568.70" y="219.28" font-size="6.3" text-anchor="end" fill="#222" font-weight="bold" stroke="#222" stroke-width="0.25">0</text>
<line x1="570.20" y1="221.00" x2="722.60" y2="221.00" stroke="#111" stroke-width="0.9"/>
<line x1="597.70" y1="221.00" x2="597.70" y2="223.60" stroke="#111" stroke-width="0.8"/>
<line x1="647.30" y1="221.00" x2="647.30" y2="223.60" stroke="#111" stroke-width="0.8"/>
<line x1="697.20" y1="221.00" x2="697.20" y2="223.60" stroke="#111" stroke-width="0.8"/>
<rect x="578.40" y="165.40" width="6.40" height="55.60" fill="#ff0000" stroke="#111" stroke-width="1.1"/>
<rect x="590.05" y="159.3" width="5.20" height="61.70" fill="#ffff00" stroke="#111" stroke-width="1.1"/>
<rect x="590.60" y="158.50" width="4.10" height="1.50" fill="#ffff00"/>
<rect x="589.50" y="149.30" width="6.30" height="2.30" fill="#ffff00" stroke="#111" stroke-width="1.1"/>
<line x1="592.65" y1="149.30" x2="592.65" y2="146.60" stroke="#111" stroke-width="1.0"/>
<line x1="590.92" y1="147.10" x2="594.38" y2="147.10" stroke="#111" stroke-width="1.1"/>
<text x="592.65" y="145.56" font-size="8.4" text-anchor="middle" fill="#1a1a1a" font-weight="bold">*</text>
<rect x="600.35" y="159.3" width="5.40" height="61.70" fill="#0000ff" stroke="#111" stroke-width="1.1"/>
<rect x="600.90" y="158.50" width="4.30" height="1.50" fill="#0000ff"/>
<rect x="599.80" y="149.50" width="6.50" height="2.10" fill="#0000ff" stroke="#111" stroke-width="1.1"/>
<line x1="603.05" y1="149.50" x2="603.05" y2="146.80" stroke="#111" stroke-width="1.0"/>
<line x1="601.26" y1="147.30" x2="604.84" y2="147.30" stroke="#111" stroke-width="1.1"/>
<text x="603.05" y="145.56" font-size="8.4" text-anchor="middle" fill="#1a1a1a" font-weight="bold">*</text>
<rect x="610.85" y="159.3" width="5.20" height="61.70" fill="#00ff00" stroke="#111" stroke-width="1.1"/>
<rect x="611.40" y="158.50" width="4.10" height="1.50" fill="#00ff00"/>
<rect x="610.30" y="141.30" width="6.30" height="10.30" fill="#00ff00" stroke="#111" stroke-width="1.1"/>
<line x1="613.45" y1="141.30" x2="613.45" y2="138.70" stroke="#111" stroke-width="1.0"/>
<line x1="611.72" y1="139.20" x2="615.18" y2="139.20" stroke="#111" stroke-width="1.1"/>
<text x="608.55" y="136.76" font-size="8.4" text-anchor="middle" fill="#1a1a1a" font-weight="bold">*</text>
<text x="613.45" y="135.19" font-size="7.8" text-anchor="middle" fill="#2a2a2a" font-style="italic" stroke="#2a2a2a" stroke-width="0.25">#</text>
<text x="618.35" y="134.86" font-size="7.0" text-anchor="middle" fill="#2a2a2a" stroke="#2a2a2a" stroke-width="0.3">+</text>
<rect x="628.50" y="165.50" width="5.90" height="55.50" fill="#ff0000" stroke="#111" stroke-width="1.1"/>
<rect x="639.55" y="159.3" width="5.30" height="61.70" fill="#ffff00" stroke="#111" stroke-width="1.1"/>
<rect x="640.10" y="158.50" width="4.20" height="1.50" fill="#ffff00"/>
<rect x="639.00" y="145.50" width="6.40" height="6.10" fill="#ffff00" stroke="#111" stroke-width="1.1"/>
<line x1="642.20" y1="145.50" x2="642.20" y2="142.10" stroke="#111" stroke-width="1.0"/>
<line x1="640.44" y1="142.60" x2="643.96" y2="142.60" stroke="#111" stroke-width="1.1"/>
<text x="642.20" y="140.46" font-size="8.4" text-anchor="middle" fill="#1a1a1a" font-weight="bold">*</text>
<rect x="650.25" y="159.3" width="5.10" height="61.70" fill="#0000ff" stroke="#111" stroke-width="1.1"/>
<rect x="650.80" y="158.50" width="4.00" height="1.50" fill="#0000ff"/>
<rect x="649.70" y="141.30" width="6.20" height="10.30" fill="#0000ff" stroke="#111" stroke-width="1.1"/>
<line x1="652.80" y1="141.30" x2="652.80" y2="140.10" stroke="#111" stroke-width="1.0"/>
<line x1="651.10" y1="140.60" x2="654.50" y2="140.60" stroke="#111" stroke-width="1.1"/>
<text x="652.80" y="136.26" font-size="8.4" text-anchor="middle" fill="#1a1a1a" font-weight="bold">*</text>
<rect x="660.85" y="159.3" width="5.20" height="61.70" fill="#00ff00" stroke="#111" stroke-width="1.1"/>
<rect x="661.40" y="158.50" width="4.10" height="1.50" fill="#00ff00"/>
<rect x="660.30" y="131.10" width="6.30" height="20.50" fill="#00ff00" stroke="#111" stroke-width="1.1"/>
<line x1="663.45" y1="131.10" x2="663.45" y2="128.20" stroke="#111" stroke-width="1.0"/>
<line x1="661.72" y1="128.70" x2="665.18" y2="128.70" stroke="#111" stroke-width="1.1"/>
<text x="658.55" y="124.86" font-size="8.4" text-anchor="middle" fill="#1a1a1a" font-weight="bold">*</text>
<text x="663.45" y="123.29" font-size="7.8" text-anchor="middle" fill="#2a2a2a" font-style="italic" stroke="#2a2a2a" stroke-width="0.25">#</text>
<text x="668.35" y="122.96" font-size="7.0" text-anchor="middle" fill="#2a2a2a" stroke="#2a2a2a" stroke-width="0.3">+</text>
<rect x="678.50" y="165.30" width="5.90" height="55.70" fill="#ff0000" stroke="#111" stroke-width="1.1"/>
<rect x="689.10" y="185.60" width="5.90" height="35.40" fill="#ffff00" stroke="#111" stroke-width="1.1"/>
<line x1="692.05" y1="185.60" x2="692.05" y2="183.50" stroke="#111" stroke-width="1.0"/>
<line x1="690.43" y1="184.00" x2="693.67" y2="184.00" stroke="#111" stroke-width="1.1"/>
<text x="692.05" y="181.46" font-size="8.4" text-anchor="middle" fill="#1a1a1a" font-weight="bold">*</text>
<rect x="699.70" y="198.40" width="5.90" height="22.60" fill="#0000ff" stroke="#111" stroke-width="1.1"/>
<line x1="702.65" y1="198.40" x2="702.65" y2="195.60" stroke="#111" stroke-width="1.0"/>
<line x1="701.03" y1="196.10" x2="704.27" y2="196.10" stroke="#111" stroke-width="1.1"/>
<text x="700.20" y="194.16" font-size="8.4" text-anchor="middle" fill="#1a1a1a" font-weight="bold">*</text>
<text x="705.10" y="192.59" font-size="7.8" text-anchor="middle" fill="#2a2a2a" font-style="italic" stroke="#2a2a2a" stroke-width="0.25">#</text>
<rect x="710.30" y="200.50" width="5.90" height="20.50" fill="#00ff00" stroke="#111" stroke-width="1.1"/>
<line x1="713.25" y1="200.50" x2="713.25" y2="198.40" stroke="#111" stroke-width="1.0"/>
<line x1="711.63" y1="198.90" x2="714.87" y2="198.90" stroke="#111" stroke-width="1.1"/>
<text x="710.80" y="198.36" font-size="8.4" text-anchor="middle" fill="#1a1a1a" font-weight="bold">*</text>
<text x="715.70" y="196.79" font-size="7.8" text-anchor="middle" fill="#2a2a2a" font-style="italic" stroke="#2a2a2a" stroke-width="0.25">#</text>
<text transform="translate(547.60,176.00) rotate(-90)" x="0" y="0" font-size="6.8" text-anchor="middle" fill="#111" font-weight="bold" stroke="#111" stroke-width="0.25" textLength="51.40" lengthAdjust="spacingAndGlyphs">Relative Express</text>
<text transform="translate(555.80,175.90) rotate(-90)" x="0" y="0" font-size="6.8" text-anchor="middle" fill="#111" font-weight="bold" stroke="#111" stroke-width="0.25" textLength="71.90" lengthAdjust="spacingAndGlyphs">(Normalized by β-actin)</text>
<text x="587.30" y="233.41" font-size="6.6" text-anchor="start" fill="#111" font-weight="bold" textLength="20.40" lengthAdjust="spacingAndGlyphs" stroke="#111" stroke-width="0.25">HIF-1α</text>
<text x="634.00" y="233.41" font-size="6.6" text-anchor="start" fill="#111" font-weight="bold" textLength="26.00" lengthAdjust="spacingAndGlyphs" stroke="#111" stroke-width="0.25">p-HIF-1α</text>
<text x="690.00" y="233.41" font-size="6.6" text-anchor="start" fill="#111" font-weight="bold" textLength="12.40" lengthAdjust="spacingAndGlyphs" stroke="#111" stroke-width="0.25">PHD</text>
<rect x="717.70" y="126.60" width="8.70" height="3.20" fill="#ff0000" stroke="#111" stroke-width="1.4"/>
<text x="730.20" y="130.91" font-size="6.6" text-anchor="start" fill="#111" font-weight="bold" textLength="22.70" lengthAdjust="spacingAndGlyphs" stroke="#111" stroke-width="0.25">Control</text>
<rect x="717.70" y="139.70" width="8.70" height="3.20" fill="#ffff00" stroke="#111" stroke-width="1.4"/>
<text x="730.20" y="144.01" font-size="6.6" text-anchor="start" fill="#111" font-weight="bold" textLength="11.40" lengthAdjust="spacingAndGlyphs" stroke="#111" stroke-width="0.25">Tβ4</text>
<rect x="717.70" y="152.40" width="8.70" height="3.20" fill="#0000ff" stroke="#111" stroke-width="1.4"/>
<text x="730.20" y="156.71" font-size="6.6" text-anchor="start" fill="#111" font-weight="bold" textLength="11.00" lengthAdjust="spacingAndGlyphs" stroke="#111" stroke-width="0.25">WM</text>
<rect x="717.70" y="164.80" width="8.70" height="3.20" fill="#00ff00" stroke="#111" stroke-width="1.4"/>
<text x="730.20" y="169.11" font-size="6.6" text-anchor="start" fill="#111" font-weight="bold" textLength="26.60" lengthAdjust="spacingAndGlyphs" stroke="#111" stroke-width="0.25">Tβ4+WM</text>
<text x="416.80" y="252.00" font-size="12.8" text-anchor="start" fill="#000" font-weight="bold" textLength="7.27" lengthAdjust="spacingAndGlyphs" stroke="#000" stroke-width="0.45">F</text>
<text x="413.60" y="263.11" font-size="6.6" text-anchor="start" fill="#111" font-weight="bold" textLength="20.30" lengthAdjust="spacingAndGlyphs" stroke="#111" stroke-width="0.25">HIF-1α</text>
<text x="406.80" y="286.91" font-size="6.6" text-anchor="start" fill="#111" font-weight="bold" textLength="27.10" lengthAdjust="spacingAndGlyphs" stroke="#111" stroke-width="0.25">p-HIF-1α</text>
<text x="422.90" y="310.51" font-size="6.6" text-anchor="start" fill="#111" font-weight="bold" textLength="10.50" lengthAdjust="spacingAndGlyphs" stroke="#111" stroke-width="0.25">FIH</text>
<text x="412.20" y="334.21" font-size="6.6" text-anchor="start" fill="#111" font-weight="bold" textLength="21.20" lengthAdjust="spacingAndGlyphs" stroke="#111" stroke-width="0.25">β-actin</text>
<text x="433.60" y="347.31" font-size="6.6" text-anchor="start" fill="#111" font-weight="bold" textLength="23.20" lengthAdjust="spacingAndGlyphs" stroke="#111" stroke-width="0.25">Control</text>
<text x="460.70" y="347.31" font-size="6.6" text-anchor="start" fill="#111" font-weight="bold" textLength="11.30" lengthAdjust="spacingAndGlyphs" stroke="#111" stroke-width="0.25">Tβ4</text>
<text x="483.40" y="347.31" font-size="6.6" text-anchor="start" fill="#111" font-weight="bold" textLength="8.10" lengthAdjust="spacingAndGlyphs" stroke="#111" stroke-width="0.25">YC</text>
<text x="498.30" y="347.31" font-size="6.6" text-anchor="start" fill="#111" font-weight="bold" textLength="26.00" lengthAdjust="spacingAndGlyphs" stroke="#111" stroke-width="0.25">Tβ4+YC</text>
<rect x="437.30" y="252.00" width="82.20" height="12.70" fill="#f0f0f0" filter="url(#b6)"/>
<rect x="441.80" y="255.45" width="13.30" height="4.50" rx="2.61" ry="2.25" fill="#080808" filter="url(#b6)"/>
<rect x="462.40" y="254.85" width="14.30" height="6.30" rx="3.65" ry="3.15" fill="#080808" filter="url(#b6)"/>
<rect x="482.90" y="257.40" width="13.70" height="1.80" rx="1.04" ry="0.90" fill="#333" filter="url(#b7)" opacity="0.75"/>
<ellipse cx="486.00" cy="258.20" rx="3.00" ry="1.50" fill="#111" filter="url(#b7)" opacity="0.9"/>
<ellipse cx="494.60" cy="258.40" rx="1.60" ry="1.10" fill="#222" filter="url(#b7)" opacity="0.8"/>
<rect x="504.00" y="255.15" width="13.70" height="4.70" rx="2.73" ry="2.35" fill="#080808" filter="url(#b6)"/>
<rect x="437.30" y="274.80" width="82.20" height="11.90" fill="#efefef" filter="url(#b6)"/>
<rect x="440.60" y="279.15" width="13.70" height="4.10" rx="2.38" ry="2.05" fill="#080808" filter="url(#b6)"/>
<rect x="461.70" y="278.45" width="14.30" height="5.70" rx="3.31" ry="2.85" fill="#080808" filter="url(#b6)"/>
<rect x="482.90" y="280.35" width="13.10" height="2.90" rx="1.68" ry="1.45" fill="#080808" filter="url(#b6)"/>
<rect x="505.30" y="280.55" width="9.30" height="2.90" rx="1.68" ry="1.45" fill="#080808" filter="url(#b6)"/>
<rect x="438.10" y="302.20" width="81.40" height="10.70" fill="#f0f0f0" filter="url(#b6)"/>
<rect x="441.00" y="305.35" width="11.50" height="3.90" rx="2.26" ry="1.95" fill="#080808" filter="url(#b6)"/>
<rect x="460.70" y="306.35" width="12.20" height="2.90" rx="1.68" ry="1.45" fill="#080808" filter="url(#b6)"/>
<rect x="480.50" y="305.45" width="14.10" height="5.30" rx="3.07" ry="2.65" fill="#080808" filter="url(#b6)"/>
<rect x="501.70" y="304.85" width="13.60" height="4.30" rx="2.49" ry="2.15" fill="#080808" filter="url(#b6)"/>
<rect x="437.00" y="324.70" width="81.60" height="12.80" fill="#ececec" filter="url(#b6)"/>
<rect x="438.10" y="327.35" width="16.50" height="7.30" rx="4.23" ry="3.65" fill="#080808" filter="url(#b6)"/>
<rect x="458.50" y="327.35" width="16.40" height="7.30" rx="4.23" ry="3.65" fill="#080808" filter="url(#b6)"/>
<rect x="479.30" y="327.35" width="16.50" height="7.30" rx="4.23" ry="3.65" fill="#080808" filter="url(#b6)"/>
<rect x="500.00" y="327.35" width="16.60" height="7.30" rx="4.23" ry="3.65" fill="#080808" filter="url(#b6)"/>
<line x1="569.20" y1="246.20" x2="569.20" y2="337.20" stroke="#111" stroke-width="0.9"/>
<line x1="566.80" y1="337.20" x2="569.20" y2="337.20" stroke="#111" stroke-width="0.9"/>
<text x="564.30" y="338.38" font-size="6.3" text-anchor="end" fill="#222" font-weight="bold" stroke="#222" stroke-width="0.25">0</text>
<line x1="566.80" y1="310.10" x2="569.20" y2="310.10" stroke="#111" stroke-width="0.9"/>
<text x="564.30" y="312.98" font-size="6.3" text-anchor="end" fill="#222" font-weight="bold" stroke="#222" stroke-width="0.25">1</text>
<line x1="566.80" y1="283.50" x2="569.20" y2="283.50" stroke="#111" stroke-width="0.9"/>
<text x="564.30" y="287.58" font-size="6.3" text-anchor="end" fill="#222" font-weight="bold" stroke="#222" stroke-width="0.25">2</text>
<line x1="566.80" y1="256.70" x2="569.20" y2="256.70" stroke="#111" stroke-width="0.9"/>
<text x="564.30" y="260.98" font-size="6.3" text-anchor="end" fill="#222" font-weight="bold" stroke="#222" stroke-width="0.25">3</text>
<line x1="569.20" y1="337.20" x2="709.90" y2="337.20" stroke="#111" stroke-width="0.9"/>
<line x1="592.50" y1="337.20" x2="592.50" y2="339.80" stroke="#111" stroke-width="0.8"/>
<line x1="639.40" y1="337.20" x2="639.40" y2="339.80" stroke="#111" stroke-width="0.8"/>
<line x1="686.40" y1="337.20" x2="686.40" y2="339.80" stroke="#111" stroke-width="0.8"/>
<rect x="574.70" y="311.20" width="6.10" height="26.00" fill="#ff0000" stroke="#111" stroke-width="1.1"/>
<rect x="584.60" y="283.70" width="6.00" height="53.50" fill="#ffff00" stroke="#111" stroke-width="1.1"/>
<line x1="587.60" y1="283.70" x2="587.60" y2="280.30" stroke="#111" stroke-width="1.0"/>
<line x1="585.95" y1="280.80" x2="589.25" y2="280.80" stroke="#111" stroke-width="1.1"/>
<text x="587.60" y="277.86" font-size="8.4" text-anchor="middle" fill="#1a1a1a" font-weight="bold">*</text>
<rect x="594.70" y="323.30" width="6.10" height="13.90" fill="#0000ff" stroke="#111" stroke-width="1.1"/>
<line x1="597.75" y1="323.30" x2="597.75" y2="319.20" stroke="#111" stroke-width="1.0"/>
<line x1="596.07" y1="319.70" x2="599.43" y2="319.70" stroke="#111" stroke-width="1.1"/>
<text x="595.25" y="316.26" font-size="8.4" text-anchor="middle" fill="#1a1a1a" font-weight="bold">*</text>
<text x="600.25" y="314.76" font-size="8.0" text-anchor="middle" fill="#2a2a2a" font-style="italic" stroke="#2a2a2a" stroke-width="0.25">#</text>
<rect x="605.00" y="307.20" width="5.80" height="30.00" fill="#00ff00" stroke="#111" stroke-width="1.1"/>
<line x1="607.90" y1="307.20" x2="607.90" y2="303.30" stroke="#111" stroke-width="1.0"/>
<line x1="606.30" y1="303.80" x2="609.50" y2="303.80" stroke="#111" stroke-width="1.1"/>
<text x="605.40" y="301.96" font-size="8.0" text-anchor="middle" fill="#2a2a2a" font-style="italic" stroke="#2a2a2a" stroke-width="0.25">#</text>
<text x="610.40" y="301.63" font-size="7.2" text-anchor="middle" fill="#2a2a2a" stroke="#2a2a2a" stroke-width="0.3">+</text>
<rect x="621.90" y="311.30" width="5.80" height="25.90" fill="#ff0000" stroke="#111" stroke-width="1.1"/>
<rect x="631.60" y="255.20" width="6.10" height="82.00" fill="#ffff00" stroke="#111" stroke-width="1.1"/>
<line x1="634.65" y1="255.20" x2="634.65" y2="251.40" stroke="#111" stroke-width="1.0"/>
<line x1="632.97" y1="251.90" x2="636.33" y2="251.90" stroke="#111" stroke-width="1.1"/>
<text x="634.65" y="251.26" font-size="8.4" text-anchor="middle" fill="#1a1a1a" font-weight="bold">*</text>
<rect x="641.80" y="331.60" width="6.10" height="5.60" fill="#0000ff" stroke="#111" stroke-width="1.1"/>
<line x1="644.85" y1="331.60" x2="644.85" y2="328.50" stroke="#111" stroke-width="1.0"/>
<line x1="643.17" y1="329.00" x2="646.53" y2="329.00" stroke="#111" stroke-width="1.1"/>
<text x="642.35" y="327.36" font-size="8.4" text-anchor="middle" fill="#1a1a1a" font-weight="bold">*</text>
<text x="647.35" y="325.86" font-size="8.0" text-anchor="middle" fill="#2a2a2a" font-style="italic" stroke="#2a2a2a" stroke-width="0.25">#</text>
<rect x="652.10" y="327.40" width="5.60" height="9.80" fill="#00ff00" stroke="#111" stroke-width="1.1"/>
<line x1="654.90" y1="327.40" x2="654.90" y2="325.80" stroke="#111" stroke-width="1.0"/>
<line x1="653.36" y1="326.30" x2="656.44" y2="326.30" stroke="#111" stroke-width="1.1"/>
<text x="652.40" y="323.56" font-size="8.4" text-anchor="middle" fill="#1a1a1a" font-weight="bold">*</text>
<text x="657.40" y="322.06" font-size="8.0" text-anchor="middle" fill="#2a2a2a" font-style="italic" stroke="#2a2a2a" stroke-width="0.25">#</text>
<rect x="668.90" y="311.30" width="5.60" height="25.90" fill="#ff0000" stroke="#111" stroke-width="1.1"/>
<rect x="678.50" y="323.10" width="6.10" height="14.10" fill="#ffff00" stroke="#111" stroke-width="1.1"/>
<line x1="681.55" y1="323.10" x2="681.55" y2="321.60" stroke="#111" stroke-width="1.0"/>
<line x1="679.87" y1="322.10" x2="683.23" y2="322.10" stroke="#111" stroke-width="1.1"/>
<text x="681.55" y="321.06" font-size="8.4" text-anchor="middle" fill="#1a1a1a" font-weight="bold">*</text>
<rect x="688.40" y="282.80" width="6.20" height="54.40" fill="#0000ff" stroke="#111" stroke-width="1.1"/>
<line x1="691.50" y1="282.80" x2="691.50" y2="279.20" stroke="#111" stroke-width="1.0"/>
<line x1="689.79" y1="279.70" x2="693.21" y2="279.70" stroke="#111" stroke-width="1.1"/>
<text x="689.00" y="278.06" font-size="8.4" text-anchor="middle" fill="#1a1a1a" font-weight="bold">*</text>
<text x="694.00" y="276.56" font-size="8.0" text-anchor="middle" fill="#2a2a2a" font-style="italic" stroke="#2a2a2a" stroke-width="0.25">#</text>
<rect x="698.50" y="305.00" width="6.00" height="32.20" fill="#00ff00" stroke="#111" stroke-width="1.1"/>
<line x1="701.50" y1="305.00" x2="701.50" y2="302.70" stroke="#111" stroke-width="1.0"/>
<line x1="699.85" y1="303.20" x2="703.15" y2="303.20" stroke="#111" stroke-width="1.1"/>
<text x="696.50" y="302.36" font-size="8.4" text-anchor="middle" fill="#1a1a1a" font-weight="bold">*</text>
<text x="701.50" y="300.86" font-size="8.0" text-anchor="middle" fill="#2a2a2a" font-style="italic" stroke="#2a2a2a" stroke-width="0.25">#</text>
<text x="706.50" y="300.53" font-size="7.2" text-anchor="middle" fill="#2a2a2a" stroke="#2a2a2a" stroke-width="0.3">+</text>
<text transform="translate(547.60,295.00) rotate(-90)" x="0" y="0" font-size="6.8" text-anchor="middle" fill="#111" font-weight="bold" stroke="#111" stroke-width="0.25" textLength="51.60" lengthAdjust="spacingAndGlyphs">Relative Express</text>
<text transform="translate(555.80,295.25) rotate(-90)" x="0" y="0" font-size="6.8" text-anchor="middle" fill="#111" font-weight="bold" stroke="#111" stroke-width="0.25" textLength="71.90" lengthAdjust="spacingAndGlyphs">(Normalized by β-actin)</text>
<text x="581.90" y="350.21" font-size="6.6" text-anchor="start" fill="#111" font-weight="bold" textLength="20.20" lengthAdjust="spacingAndGlyphs" stroke="#111" stroke-width="0.25">HIF-1α</text>
<text x="627.30" y="350.21" font-size="6.6" text-anchor="start" fill="#111" font-weight="bold" textLength="26.00" lengthAdjust="spacingAndGlyphs" stroke="#111" stroke-width="0.25">p-HIF-1α</text>
<text x="681.10" y="350.21" font-size="6.6" text-anchor="start" fill="#111" font-weight="bold" textLength="10.60" lengthAdjust="spacingAndGlyphs" stroke="#111" stroke-width="0.25">FIH</text>
<rect x="710.60" y="249.90" width="8.30" height="3.20" fill="#ff0000" stroke="#111" stroke-width="1.4"/>
<text x="721.30" y="253.21" font-size="6.6" text-anchor="start" fill="#111" font-weight="bold" textLength="23.20" lengthAdjust="spacingAndGlyphs" stroke="#111" stroke-width="0.25">Control</text>
<rect x="710.60" y="262.50" width="8.30" height="3.20" fill="#ffff00" stroke="#111" stroke-width="1.4"/>
<text x="721.30" y="266.21" font-size="6.6" text-anchor="start" fill="#111" font-weight="bold" textLength="11.40" lengthAdjust="spacingAndGlyphs" stroke="#111" stroke-width="0.25">Tβ4</text>
<rect x="710.60" y="274.50" width="8.30" height="3.20" fill="#0000ff" stroke="#111" stroke-width="1.4"/>
<text x="721.30" y="278.81" font-size="6.6" text-anchor="start" fill="#111" font-weight="bold" textLength="8.60" lengthAdjust="spacingAndGlyphs" stroke="#111" stroke-width="0.25">YC</text>
<rect x="710.60" y="287.00" width="8.30" height="3.20" fill="#00ff00" stroke="#111" stroke-width="1.4"/>
<text x="721.30" y="291.31" font-size="6.6" text-anchor="start" fill="#111" font-weight="bold" textLength="24.00" lengthAdjust="spacingAndGlyphs" stroke="#111" stroke-width="0.25">Tβ4+YC</text>
</g>
</svg>
</body></html>
